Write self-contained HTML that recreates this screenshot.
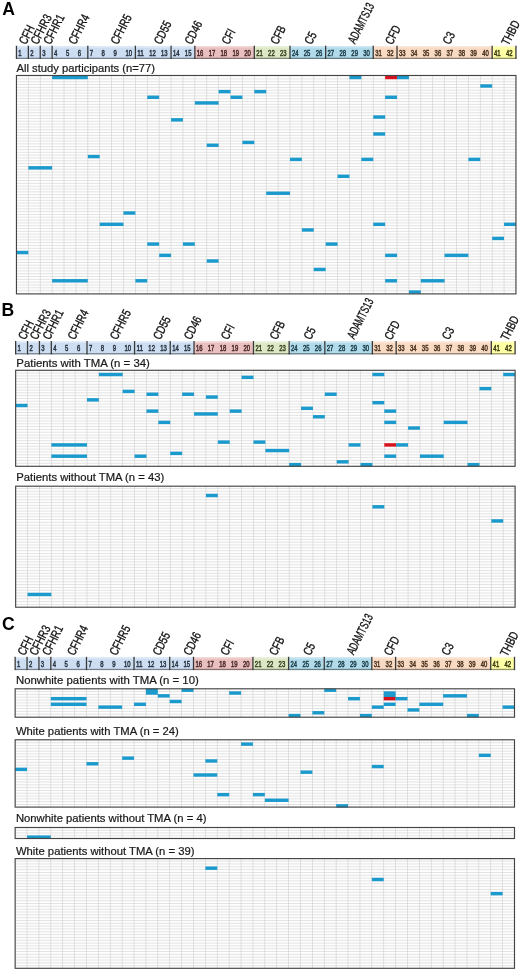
<!DOCTYPE html>
<html><head><meta charset="utf-8"><title>Figure</title>
<style>
html,body{margin:0;padding:0;background:#fff;}
body{width:520px;height:970px;overflow:hidden;}
svg{display:block;filter:blur(0.55px);font-family:"Liberation Sans", sans-serif;}
</style></head><body>
<svg width="520" height="970" viewBox="0 0 520 970">
<rect width="520" height="970" fill="#fff"/>
<text x="2.30" y="14.60" font-size="17.6" font-weight="bold" fill="#000">A</text>
<rect x="16.45" y="46.00" width="11.89" height="13.00" fill="#cddef3"/>
<rect x="28.34" y="46.00" width="11.89" height="13.00" fill="#cddef3"/>
<rect x="40.24" y="46.00" width="11.89" height="13.00" fill="#cddef3"/>
<rect x="52.13" y="46.00" width="35.68" height="13.00" fill="#cddef3"/>
<rect x="87.81" y="46.00" width="47.57" height="13.00" fill="#cddef3"/>
<rect x="135.38" y="46.00" width="35.68" height="13.00" fill="#cddef3"/>
<rect x="171.06" y="46.00" width="23.79" height="13.00" fill="#cddef3"/>
<rect x="194.84" y="46.00" width="59.46" height="13.00" fill="#e9c0bf"/>
<rect x="254.31" y="46.00" width="35.68" height="13.00" fill="#dde8c6"/>
<rect x="289.99" y="46.00" width="35.68" height="13.00" fill="#b1dbea"/>
<rect x="325.66" y="46.00" width="47.57" height="13.00" fill="#b1dbea"/>
<rect x="373.24" y="46.00" width="23.79" height="13.00" fill="#f9dac3"/>
<rect x="397.02" y="46.00" width="95.14" height="13.00" fill="#f9dac3"/>
<rect x="492.16" y="46.00" width="23.79" height="13.00" fill="#ffffa6"/>
<rect x="16.45" y="46.00" width="499.50" height="1.6" fill="#fff" fill-opacity="0.35"/>
<rect x="16.45" y="57.70" width="499.50" height="1.3" fill="#000" fill-opacity="0.42"/>
<text x="18.35" y="55.70" font-size="8.5" fill="#2a3440" stroke="#2a3440" stroke-width="0.5" textLength="3.30" lengthAdjust="spacingAndGlyphs">1</text>
<text x="30.24" y="55.70" font-size="8.5" fill="#2a3440" stroke="#2a3440" stroke-width="0.5" textLength="3.30" lengthAdjust="spacingAndGlyphs">2</text>
<text x="42.14" y="55.70" font-size="8.5" fill="#2a3440" stroke="#2a3440" stroke-width="0.5" textLength="3.30" lengthAdjust="spacingAndGlyphs">3</text>
<text x="54.03" y="55.70" font-size="8.5" fill="#2a3440" stroke="#2a3440" stroke-width="0.5" textLength="3.30" lengthAdjust="spacingAndGlyphs">4</text>
<text x="65.92" y="55.70" font-size="8.5" fill="#2a3440" stroke="#2a3440" stroke-width="0.5" textLength="3.30" lengthAdjust="spacingAndGlyphs">5</text>
<text x="77.81" y="55.70" font-size="8.5" fill="#2a3440" stroke="#2a3440" stroke-width="0.5" textLength="3.30" lengthAdjust="spacingAndGlyphs">6</text>
<text x="89.71" y="55.70" font-size="8.5" fill="#2a3440" stroke="#2a3440" stroke-width="0.5" textLength="3.30" lengthAdjust="spacingAndGlyphs">7</text>
<text x="101.60" y="55.70" font-size="8.5" fill="#2a3440" stroke="#2a3440" stroke-width="0.5" textLength="3.30" lengthAdjust="spacingAndGlyphs">8</text>
<text x="113.49" y="55.70" font-size="8.5" fill="#2a3440" stroke="#2a3440" stroke-width="0.5" textLength="3.30" lengthAdjust="spacingAndGlyphs">9</text>
<text x="125.39" y="55.70" font-size="8.5" fill="#2a3440" stroke="#2a3440" stroke-width="0.5" textLength="6.60" lengthAdjust="spacingAndGlyphs">10</text>
<text x="137.28" y="55.70" font-size="8.5" fill="#2a3440" stroke="#2a3440" stroke-width="0.5" textLength="6.60" lengthAdjust="spacingAndGlyphs">11</text>
<text x="149.17" y="55.70" font-size="8.5" fill="#2a3440" stroke="#2a3440" stroke-width="0.5" textLength="6.60" lengthAdjust="spacingAndGlyphs">12</text>
<text x="161.06" y="55.70" font-size="8.5" fill="#2a3440" stroke="#2a3440" stroke-width="0.5" textLength="6.60" lengthAdjust="spacingAndGlyphs">13</text>
<text x="172.96" y="55.70" font-size="8.5" fill="#2a3440" stroke="#2a3440" stroke-width="0.5" textLength="6.60" lengthAdjust="spacingAndGlyphs">14</text>
<text x="184.85" y="55.70" font-size="8.5" fill="#2a3440" stroke="#2a3440" stroke-width="0.5" textLength="6.60" lengthAdjust="spacingAndGlyphs">15</text>
<text x="196.74" y="55.70" font-size="8.5" fill="#4a2a2a" stroke="#4a2a2a" stroke-width="0.5" textLength="6.60" lengthAdjust="spacingAndGlyphs">16</text>
<text x="208.64" y="55.70" font-size="8.5" fill="#4a2a2a" stroke="#4a2a2a" stroke-width="0.5" textLength="6.60" lengthAdjust="spacingAndGlyphs">17</text>
<text x="220.53" y="55.70" font-size="8.5" fill="#4a2a2a" stroke="#4a2a2a" stroke-width="0.5" textLength="6.60" lengthAdjust="spacingAndGlyphs">18</text>
<text x="232.42" y="55.70" font-size="8.5" fill="#4a2a2a" stroke="#4a2a2a" stroke-width="0.5" textLength="6.60" lengthAdjust="spacingAndGlyphs">19</text>
<text x="244.31" y="55.70" font-size="8.5" fill="#4a2a2a" stroke="#4a2a2a" stroke-width="0.5" textLength="6.60" lengthAdjust="spacingAndGlyphs">20</text>
<text x="256.21" y="55.70" font-size="8.5" fill="#3a4220" stroke="#3a4220" stroke-width="0.5" textLength="6.60" lengthAdjust="spacingAndGlyphs">21</text>
<text x="268.10" y="55.70" font-size="8.5" fill="#3a4220" stroke="#3a4220" stroke-width="0.5" textLength="6.60" lengthAdjust="spacingAndGlyphs">22</text>
<text x="279.99" y="55.70" font-size="8.5" fill="#3a4220" stroke="#3a4220" stroke-width="0.5" textLength="6.60" lengthAdjust="spacingAndGlyphs">23</text>
<text x="291.89" y="55.70" font-size="8.5" fill="#1c3c48" stroke="#1c3c48" stroke-width="0.5" textLength="6.60" lengthAdjust="spacingAndGlyphs">24</text>
<text x="303.78" y="55.70" font-size="8.5" fill="#1c3c48" stroke="#1c3c48" stroke-width="0.5" textLength="6.60" lengthAdjust="spacingAndGlyphs">25</text>
<text x="315.67" y="55.70" font-size="8.5" fill="#1c3c48" stroke="#1c3c48" stroke-width="0.5" textLength="6.60" lengthAdjust="spacingAndGlyphs">26</text>
<text x="327.56" y="55.70" font-size="8.5" fill="#1c3c48" stroke="#1c3c48" stroke-width="0.5" textLength="6.60" lengthAdjust="spacingAndGlyphs">27</text>
<text x="339.46" y="55.70" font-size="8.5" fill="#1c3c48" stroke="#1c3c48" stroke-width="0.5" textLength="6.60" lengthAdjust="spacingAndGlyphs">28</text>
<text x="351.35" y="55.70" font-size="8.5" fill="#1c3c48" stroke="#1c3c48" stroke-width="0.5" textLength="6.60" lengthAdjust="spacingAndGlyphs">29</text>
<text x="363.24" y="55.70" font-size="8.5" fill="#1c3c48" stroke="#1c3c48" stroke-width="0.5" textLength="6.60" lengthAdjust="spacingAndGlyphs">30</text>
<text x="375.14" y="55.70" font-size="8.5" fill="#4a3420" stroke="#4a3420" stroke-width="0.5" textLength="6.60" lengthAdjust="spacingAndGlyphs">31</text>
<text x="387.03" y="55.70" font-size="8.5" fill="#4a3420" stroke="#4a3420" stroke-width="0.5" textLength="6.60" lengthAdjust="spacingAndGlyphs">32</text>
<text x="398.92" y="55.70" font-size="8.5" fill="#4a3420" stroke="#4a3420" stroke-width="0.5" textLength="6.60" lengthAdjust="spacingAndGlyphs">33</text>
<text x="410.81" y="55.70" font-size="8.5" fill="#4a3420" stroke="#4a3420" stroke-width="0.5" textLength="6.60" lengthAdjust="spacingAndGlyphs">34</text>
<text x="422.71" y="55.70" font-size="8.5" fill="#4a3420" stroke="#4a3420" stroke-width="0.5" textLength="6.60" lengthAdjust="spacingAndGlyphs">35</text>
<text x="434.60" y="55.70" font-size="8.5" fill="#4a3420" stroke="#4a3420" stroke-width="0.5" textLength="6.60" lengthAdjust="spacingAndGlyphs">36</text>
<text x="446.49" y="55.70" font-size="8.5" fill="#4a3420" stroke="#4a3420" stroke-width="0.5" textLength="6.60" lengthAdjust="spacingAndGlyphs">37</text>
<text x="458.39" y="55.70" font-size="8.5" fill="#4a3420" stroke="#4a3420" stroke-width="0.5" textLength="6.60" lengthAdjust="spacingAndGlyphs">38</text>
<text x="470.28" y="55.70" font-size="8.5" fill="#4a3420" stroke="#4a3420" stroke-width="0.5" textLength="6.60" lengthAdjust="spacingAndGlyphs">39</text>
<text x="482.17" y="55.70" font-size="8.5" fill="#4a3420" stroke="#4a3420" stroke-width="0.5" textLength="6.60" lengthAdjust="spacingAndGlyphs">40</text>
<text x="494.06" y="55.70" font-size="8.5" fill="#3a3a10" stroke="#3a3a10" stroke-width="0.5" textLength="6.60" lengthAdjust="spacingAndGlyphs">41</text>
<text x="505.96" y="55.70" font-size="8.5" fill="#3a3a10" stroke="#3a3a10" stroke-width="0.5" textLength="6.60" lengthAdjust="spacingAndGlyphs">42</text>
<rect x="27.69" y="45.70" width="1.3" height="13.30" fill="#3a3a3a"/>
<rect x="39.59" y="45.70" width="1.3" height="13.30" fill="#3a3a3a"/>
<rect x="51.48" y="45.70" width="1.3" height="13.30" fill="#3a3a3a"/>
<rect x="87.16" y="45.70" width="1.3" height="13.30" fill="#3a3a3a"/>
<rect x="134.73" y="45.70" width="1.3" height="13.30" fill="#3a3a3a"/>
<rect x="170.41" y="45.70" width="1.3" height="13.30" fill="#3a3a3a"/>
<rect x="194.19" y="45.70" width="1.3" height="13.30" fill="#3a3a3a"/>
<rect x="253.66" y="45.70" width="1.3" height="13.30" fill="#3a3a3a"/>
<rect x="289.34" y="45.70" width="1.3" height="13.30" fill="#3a3a3a"/>
<rect x="325.01" y="45.70" width="1.3" height="13.30" fill="#3a3a3a"/>
<rect x="372.59" y="45.70" width="1.3" height="13.30" fill="#3a3a3a"/>
<rect x="396.37" y="45.70" width="1.3" height="13.30" fill="#3a3a3a"/>
<rect x="491.51" y="45.70" width="1.3" height="13.30" fill="#3a3a3a"/>
<rect x="15.80" y="45.70" width="1.3" height="13.30" fill="#3a3a3a"/>
<rect x="515.30" y="45.70" width="1.3" height="13.30" fill="#3a3a3a"/>
<text x="0" y="0" font-size="12.5" fill="#111" stroke="#111" stroke-width="0.32" transform="translate(25.95,45.25) rotate(-63) scale(0.76,1)">CFH</text>
<text x="0" y="0" font-size="12.5" fill="#111" stroke="#111" stroke-width="0.32" transform="translate(37.75,45.25) rotate(-63) scale(0.76,1)">CFHR3</text>
<text x="0" y="0" font-size="12.5" fill="#111" stroke="#111" stroke-width="0.32" transform="translate(50.45,45.25) rotate(-63) scale(0.76,1)">CFHR1</text>
<text x="0" y="0" font-size="12.5" fill="#111" stroke="#111" stroke-width="0.32" transform="translate(75.45,45.25) rotate(-63) scale(0.76,1)">CFHR4</text>
<text x="0" y="0" font-size="12.5" fill="#111" stroke="#111" stroke-width="0.32" transform="translate(117.75,45.25) rotate(-63) scale(0.76,1)">CFHR5</text>
<text x="0" y="0" font-size="12.5" fill="#111" stroke="#111" stroke-width="0.32" transform="translate(160.95,45.25) rotate(-63) scale(0.76,1)">CD55</text>
<text x="0" y="0" font-size="12.5" fill="#111" stroke="#111" stroke-width="0.32" transform="translate(191.75,45.25) rotate(-63) scale(0.76,1)">CD46</text>
<text x="0" y="0" font-size="12.5" fill="#111" stroke="#111" stroke-width="0.32" transform="translate(228.85,45.25) rotate(-63) scale(0.76,1)">CFI</text>
<text x="0" y="0" font-size="12.5" fill="#111" stroke="#111" stroke-width="0.32" transform="translate(277.55,45.25) rotate(-63) scale(0.76,1)">CFB</text>
<text x="0" y="0" font-size="12.5" fill="#111" stroke="#111" stroke-width="0.32" transform="translate(311.55,45.25) rotate(-63) scale(0.76,1)">C5</text>
<text x="0" y="0" font-size="12.5" fill="#111" stroke="#111" stroke-width="0.32" transform="translate(354.95,44.45) rotate(-63) scale(0.66,1)">ADAMTS13</text>
<text x="0" y="0" font-size="12.5" fill="#111" stroke="#111" stroke-width="0.32" transform="translate(392.25,45.45) rotate(-63) scale(0.76,1)">CFD</text>
<text x="0" y="0" font-size="12.5" fill="#111" stroke="#111" stroke-width="0.32" transform="translate(449.85,45.25) rotate(-63) scale(0.76,1)">C3</text>
<text x="0" y="0" font-size="12.5" fill="#111" stroke="#111" stroke-width="0.32" transform="translate(508.55,46.25) rotate(-63) scale(0.76,1)">THBD</text>
<text x="16.55" y="71.80" font-size="11.2" fill="#1a1a1a" stroke="#1a1a1a" stroke-width="0.22">All study participants (n=77)</text>
<rect x="16.45" y="75.50" width="499.50" height="218.40" fill="#fdfdfd"/>
<rect x="16.45" y="78.47" width="499.50" height="0.9" fill="#e1e1e1"/>
<rect x="16.45" y="81.30" width="499.50" height="0.9" fill="#e1e1e1"/>
<rect x="16.45" y="84.12" width="499.50" height="0.9" fill="#e1e1e1"/>
<rect x="16.45" y="86.94" width="499.50" height="0.9" fill="#e1e1e1"/>
<rect x="16.45" y="89.76" width="499.50" height="0.9" fill="#e1e1e1"/>
<rect x="16.45" y="92.59" width="499.50" height="0.9" fill="#e1e1e1"/>
<rect x="16.45" y="95.41" width="499.50" height="0.9" fill="#e1e1e1"/>
<rect x="16.45" y="98.23" width="499.50" height="0.9" fill="#e1e1e1"/>
<rect x="16.45" y="101.06" width="499.50" height="0.9" fill="#e1e1e1"/>
<rect x="16.45" y="103.88" width="499.50" height="0.9" fill="#e1e1e1"/>
<rect x="16.45" y="106.70" width="499.50" height="0.9" fill="#e1e1e1"/>
<rect x="16.45" y="109.53" width="499.50" height="0.9" fill="#e1e1e1"/>
<rect x="16.45" y="112.35" width="499.50" height="0.9" fill="#e1e1e1"/>
<rect x="16.45" y="115.17" width="499.50" height="0.9" fill="#e1e1e1"/>
<rect x="16.45" y="117.99" width="499.50" height="0.9" fill="#e1e1e1"/>
<rect x="16.45" y="120.82" width="499.50" height="0.9" fill="#e1e1e1"/>
<rect x="16.45" y="123.64" width="499.50" height="0.9" fill="#e1e1e1"/>
<rect x="16.45" y="126.46" width="499.50" height="0.9" fill="#e1e1e1"/>
<rect x="16.45" y="129.29" width="499.50" height="0.9" fill="#e1e1e1"/>
<rect x="16.45" y="132.11" width="499.50" height="0.9" fill="#e1e1e1"/>
<rect x="16.45" y="134.93" width="499.50" height="0.9" fill="#e1e1e1"/>
<rect x="16.45" y="137.76" width="499.50" height="0.9" fill="#e1e1e1"/>
<rect x="16.45" y="140.58" width="499.50" height="0.9" fill="#e1e1e1"/>
<rect x="16.45" y="143.40" width="499.50" height="0.9" fill="#e1e1e1"/>
<rect x="16.45" y="146.23" width="499.50" height="0.9" fill="#e1e1e1"/>
<rect x="16.45" y="149.05" width="499.50" height="0.9" fill="#e1e1e1"/>
<rect x="16.45" y="151.87" width="499.50" height="0.9" fill="#e1e1e1"/>
<rect x="16.45" y="154.69" width="499.50" height="0.9" fill="#e1e1e1"/>
<rect x="16.45" y="157.52" width="499.50" height="0.9" fill="#e1e1e1"/>
<rect x="16.45" y="160.34" width="499.50" height="0.9" fill="#e1e1e1"/>
<rect x="16.45" y="163.16" width="499.50" height="0.9" fill="#e1e1e1"/>
<rect x="16.45" y="165.99" width="499.50" height="0.9" fill="#e1e1e1"/>
<rect x="16.45" y="168.81" width="499.50" height="0.9" fill="#e1e1e1"/>
<rect x="16.45" y="171.63" width="499.50" height="0.9" fill="#e1e1e1"/>
<rect x="16.45" y="174.45" width="499.50" height="0.9" fill="#e1e1e1"/>
<rect x="16.45" y="177.28" width="499.50" height="0.9" fill="#e1e1e1"/>
<rect x="16.45" y="180.10" width="499.50" height="0.9" fill="#e1e1e1"/>
<rect x="16.45" y="182.92" width="499.50" height="0.9" fill="#e1e1e1"/>
<rect x="16.45" y="185.75" width="499.50" height="0.9" fill="#e1e1e1"/>
<rect x="16.45" y="188.57" width="499.50" height="0.9" fill="#e1e1e1"/>
<rect x="16.45" y="191.39" width="499.50" height="0.9" fill="#e1e1e1"/>
<rect x="16.45" y="194.22" width="499.50" height="0.9" fill="#e1e1e1"/>
<rect x="16.45" y="197.04" width="499.50" height="0.9" fill="#e1e1e1"/>
<rect x="16.45" y="199.86" width="499.50" height="0.9" fill="#e1e1e1"/>
<rect x="16.45" y="202.69" width="499.50" height="0.9" fill="#e1e1e1"/>
<rect x="16.45" y="205.51" width="499.50" height="0.9" fill="#e1e1e1"/>
<rect x="16.45" y="208.33" width="499.50" height="0.9" fill="#e1e1e1"/>
<rect x="16.45" y="211.15" width="499.50" height="0.9" fill="#e1e1e1"/>
<rect x="16.45" y="213.98" width="499.50" height="0.9" fill="#e1e1e1"/>
<rect x="16.45" y="216.80" width="499.50" height="0.9" fill="#e1e1e1"/>
<rect x="16.45" y="219.62" width="499.50" height="0.9" fill="#e1e1e1"/>
<rect x="16.45" y="222.45" width="499.50" height="0.9" fill="#e1e1e1"/>
<rect x="16.45" y="225.27" width="499.50" height="0.9" fill="#e1e1e1"/>
<rect x="16.45" y="228.09" width="499.50" height="0.9" fill="#e1e1e1"/>
<rect x="16.45" y="230.91" width="499.50" height="0.9" fill="#e1e1e1"/>
<rect x="16.45" y="233.74" width="499.50" height="0.9" fill="#e1e1e1"/>
<rect x="16.45" y="236.56" width="499.50" height="0.9" fill="#e1e1e1"/>
<rect x="16.45" y="239.38" width="499.50" height="0.9" fill="#e1e1e1"/>
<rect x="16.45" y="242.21" width="499.50" height="0.9" fill="#e1e1e1"/>
<rect x="16.45" y="245.03" width="499.50" height="0.9" fill="#e1e1e1"/>
<rect x="16.45" y="247.85" width="499.50" height="0.9" fill="#e1e1e1"/>
<rect x="16.45" y="250.68" width="499.50" height="0.9" fill="#e1e1e1"/>
<rect x="16.45" y="253.50" width="499.50" height="0.9" fill="#e1e1e1"/>
<rect x="16.45" y="256.32" width="499.50" height="0.9" fill="#e1e1e1"/>
<rect x="16.45" y="259.15" width="499.50" height="0.9" fill="#e1e1e1"/>
<rect x="16.45" y="261.97" width="499.50" height="0.9" fill="#e1e1e1"/>
<rect x="16.45" y="264.79" width="499.50" height="0.9" fill="#e1e1e1"/>
<rect x="16.45" y="267.61" width="499.50" height="0.9" fill="#e1e1e1"/>
<rect x="16.45" y="270.44" width="499.50" height="0.9" fill="#e1e1e1"/>
<rect x="16.45" y="273.26" width="499.50" height="0.9" fill="#e1e1e1"/>
<rect x="16.45" y="276.08" width="499.50" height="0.9" fill="#e1e1e1"/>
<rect x="16.45" y="278.91" width="499.50" height="0.9" fill="#e1e1e1"/>
<rect x="16.45" y="281.73" width="499.50" height="0.9" fill="#e1e1e1"/>
<rect x="16.45" y="284.55" width="499.50" height="0.9" fill="#e1e1e1"/>
<rect x="16.45" y="287.38" width="499.50" height="0.9" fill="#e1e1e1"/>
<rect x="16.45" y="290.20" width="499.50" height="0.9" fill="#e1e1e1"/>
<rect x="27.99" y="75.50" width="0.7" height="218.40" fill="#d5d5d5"/>
<rect x="39.89" y="75.50" width="0.7" height="218.40" fill="#d5d5d5"/>
<rect x="51.78" y="75.50" width="0.7" height="218.40" fill="#d5d5d5"/>
<rect x="63.67" y="75.50" width="0.7" height="218.40" fill="#d5d5d5"/>
<rect x="75.56" y="75.50" width="0.7" height="218.40" fill="#d5d5d5"/>
<rect x="87.46" y="75.50" width="0.7" height="218.40" fill="#d5d5d5"/>
<rect x="99.35" y="75.50" width="0.7" height="218.40" fill="#d5d5d5"/>
<rect x="111.24" y="75.50" width="0.7" height="218.40" fill="#d5d5d5"/>
<rect x="123.14" y="75.50" width="0.7" height="218.40" fill="#d5d5d5"/>
<rect x="135.03" y="75.50" width="0.7" height="218.40" fill="#d5d5d5"/>
<rect x="146.92" y="75.50" width="0.7" height="218.40" fill="#d5d5d5"/>
<rect x="158.81" y="75.50" width="0.7" height="218.40" fill="#d5d5d5"/>
<rect x="170.71" y="75.50" width="0.7" height="218.40" fill="#d5d5d5"/>
<rect x="182.60" y="75.50" width="0.7" height="218.40" fill="#d5d5d5"/>
<rect x="194.49" y="75.50" width="0.7" height="218.40" fill="#d5d5d5"/>
<rect x="206.39" y="75.50" width="0.7" height="218.40" fill="#d5d5d5"/>
<rect x="218.28" y="75.50" width="0.7" height="218.40" fill="#d5d5d5"/>
<rect x="230.17" y="75.50" width="0.7" height="218.40" fill="#d5d5d5"/>
<rect x="242.06" y="75.50" width="0.7" height="218.40" fill="#d5d5d5"/>
<rect x="253.96" y="75.50" width="0.7" height="218.40" fill="#d5d5d5"/>
<rect x="265.85" y="75.50" width="0.7" height="218.40" fill="#d5d5d5"/>
<rect x="277.74" y="75.50" width="0.7" height="218.40" fill="#d5d5d5"/>
<rect x="289.64" y="75.50" width="0.7" height="218.40" fill="#d5d5d5"/>
<rect x="301.53" y="75.50" width="0.7" height="218.40" fill="#d5d5d5"/>
<rect x="313.42" y="75.50" width="0.7" height="218.40" fill="#d5d5d5"/>
<rect x="325.31" y="75.50" width="0.7" height="218.40" fill="#d5d5d5"/>
<rect x="337.21" y="75.50" width="0.7" height="218.40" fill="#d5d5d5"/>
<rect x="349.10" y="75.50" width="0.7" height="218.40" fill="#d5d5d5"/>
<rect x="360.99" y="75.50" width="0.7" height="218.40" fill="#d5d5d5"/>
<rect x="372.89" y="75.50" width="0.7" height="218.40" fill="#d5d5d5"/>
<rect x="384.78" y="75.50" width="0.7" height="218.40" fill="#d5d5d5"/>
<rect x="396.67" y="75.50" width="0.7" height="218.40" fill="#d5d5d5"/>
<rect x="408.56" y="75.50" width="0.7" height="218.40" fill="#d5d5d5"/>
<rect x="420.46" y="75.50" width="0.7" height="218.40" fill="#d5d5d5"/>
<rect x="432.35" y="75.50" width="0.7" height="218.40" fill="#d5d5d5"/>
<rect x="444.24" y="75.50" width="0.7" height="218.40" fill="#d5d5d5"/>
<rect x="456.14" y="75.50" width="0.7" height="218.40" fill="#d5d5d5"/>
<rect x="468.03" y="75.50" width="0.7" height="218.40" fill="#d5d5d5"/>
<rect x="479.92" y="75.50" width="0.7" height="218.40" fill="#d5d5d5"/>
<rect x="491.81" y="75.50" width="0.7" height="218.40" fill="#d5d5d5"/>
<rect x="503.71" y="75.50" width="0.7" height="218.40" fill="#d5d5d5"/>
<rect x="52.13" y="75.80" width="35.68" height="3.42" fill="#1b9acd"/>
<rect x="349.45" y="75.80" width="11.89" height="3.42" fill="#1b9acd"/>
<rect x="385.13" y="75.80" width="11.89" height="3.42" fill="#d8121c"/>
<rect x="397.02" y="75.80" width="11.89" height="3.42" fill="#1b9acd"/>
<rect x="480.27" y="84.27" width="11.89" height="3.42" fill="#1b9acd"/>
<rect x="218.63" y="89.91" width="11.89" height="3.42" fill="#1b9acd"/>
<rect x="254.31" y="89.91" width="11.89" height="3.42" fill="#1b9acd"/>
<rect x="147.27" y="95.56" width="11.89" height="3.42" fill="#1b9acd"/>
<rect x="230.52" y="95.56" width="11.89" height="3.42" fill="#1b9acd"/>
<rect x="385.13" y="95.56" width="11.89" height="3.42" fill="#1b9acd"/>
<rect x="194.84" y="101.21" width="23.79" height="3.42" fill="#1b9acd"/>
<rect x="373.24" y="115.32" width="11.89" height="3.42" fill="#1b9acd"/>
<rect x="171.06" y="118.14" width="11.89" height="3.42" fill="#1b9acd"/>
<rect x="373.24" y="132.26" width="11.89" height="3.42" fill="#1b9acd"/>
<rect x="242.41" y="140.73" width="11.89" height="3.42" fill="#1b9acd"/>
<rect x="206.74" y="143.55" width="11.89" height="3.42" fill="#1b9acd"/>
<rect x="87.81" y="154.84" width="11.89" height="3.42" fill="#1b9acd"/>
<rect x="289.99" y="157.67" width="11.89" height="3.42" fill="#1b9acd"/>
<rect x="361.34" y="157.67" width="11.89" height="3.42" fill="#1b9acd"/>
<rect x="468.38" y="157.67" width="11.89" height="3.42" fill="#1b9acd"/>
<rect x="28.34" y="166.14" width="23.79" height="3.42" fill="#1b9acd"/>
<rect x="337.56" y="174.60" width="11.89" height="3.42" fill="#1b9acd"/>
<rect x="266.20" y="191.54" width="23.79" height="3.42" fill="#1b9acd"/>
<rect x="123.49" y="211.30" width="11.89" height="3.42" fill="#1b9acd"/>
<rect x="99.70" y="222.60" width="23.79" height="3.42" fill="#1b9acd"/>
<rect x="373.24" y="222.60" width="11.89" height="3.42" fill="#1b9acd"/>
<rect x="504.06" y="222.60" width="11.89" height="3.42" fill="#1b9acd"/>
<rect x="301.88" y="228.24" width="11.89" height="3.42" fill="#1b9acd"/>
<rect x="492.16" y="236.71" width="11.89" height="3.42" fill="#1b9acd"/>
<rect x="147.27" y="242.36" width="11.89" height="3.42" fill="#1b9acd"/>
<rect x="182.95" y="242.36" width="11.89" height="3.42" fill="#1b9acd"/>
<rect x="325.66" y="242.36" width="11.89" height="3.42" fill="#1b9acd"/>
<rect x="16.45" y="250.83" width="11.89" height="3.42" fill="#1b9acd"/>
<rect x="159.16" y="253.65" width="11.89" height="3.42" fill="#1b9acd"/>
<rect x="385.13" y="253.65" width="11.89" height="3.42" fill="#1b9acd"/>
<rect x="444.59" y="253.65" width="23.79" height="3.42" fill="#1b9acd"/>
<rect x="206.74" y="259.30" width="11.89" height="3.42" fill="#1b9acd"/>
<rect x="313.77" y="267.76" width="11.89" height="3.42" fill="#1b9acd"/>
<rect x="52.13" y="279.06" width="35.68" height="3.42" fill="#1b9acd"/>
<rect x="135.38" y="279.06" width="11.89" height="3.42" fill="#1b9acd"/>
<rect x="385.13" y="279.06" width="11.89" height="3.42" fill="#1b9acd"/>
<rect x="420.81" y="279.06" width="23.79" height="3.42" fill="#1b9acd"/>
<rect x="408.91" y="290.35" width="11.89" height="3.42" fill="#1b9acd"/>
<rect x="16.45" y="75.50" width="499.50" height="218.40" fill="none" stroke="#444" stroke-width="1.15"/>
<text x="1.60" y="315.90" font-size="17.6" font-weight="bold" fill="#000">B</text>
<rect x="15.65" y="341.30" width="11.89" height="13.10" fill="#cddef3"/>
<rect x="27.54" y="341.30" width="11.89" height="13.10" fill="#cddef3"/>
<rect x="39.43" y="341.30" width="11.89" height="13.10" fill="#cddef3"/>
<rect x="51.33" y="341.30" width="35.68" height="13.10" fill="#cddef3"/>
<rect x="87.00" y="341.30" width="47.57" height="13.10" fill="#cddef3"/>
<rect x="134.57" y="341.30" width="35.68" height="13.10" fill="#cddef3"/>
<rect x="170.24" y="341.30" width="23.78" height="13.10" fill="#cddef3"/>
<rect x="194.03" y="341.30" width="59.46" height="13.10" fill="#e9c0bf"/>
<rect x="253.48" y="341.30" width="35.67" height="13.10" fill="#dde8c6"/>
<rect x="289.16" y="341.30" width="35.68" height="13.10" fill="#b1dbea"/>
<rect x="324.83" y="341.30" width="47.57" height="13.10" fill="#b1dbea"/>
<rect x="372.40" y="341.30" width="23.78" height="13.10" fill="#f9dac3"/>
<rect x="396.18" y="341.30" width="95.13" height="13.10" fill="#f9dac3"/>
<rect x="491.32" y="341.30" width="23.78" height="13.10" fill="#ffffa6"/>
<rect x="15.65" y="341.30" width="499.45" height="1.6" fill="#fff" fill-opacity="0.35"/>
<rect x="15.65" y="353.10" width="499.45" height="1.3" fill="#000" fill-opacity="0.42"/>
<text x="17.55" y="351.00" font-size="8.5" fill="#2a3440" stroke="#2a3440" stroke-width="0.5" textLength="3.30" lengthAdjust="spacingAndGlyphs">1</text>
<text x="29.44" y="351.00" font-size="8.5" fill="#2a3440" stroke="#2a3440" stroke-width="0.5" textLength="3.30" lengthAdjust="spacingAndGlyphs">2</text>
<text x="41.33" y="351.00" font-size="8.5" fill="#2a3440" stroke="#2a3440" stroke-width="0.5" textLength="3.30" lengthAdjust="spacingAndGlyphs">3</text>
<text x="53.23" y="351.00" font-size="8.5" fill="#2a3440" stroke="#2a3440" stroke-width="0.5" textLength="3.30" lengthAdjust="spacingAndGlyphs">4</text>
<text x="65.12" y="351.00" font-size="8.5" fill="#2a3440" stroke="#2a3440" stroke-width="0.5" textLength="3.30" lengthAdjust="spacingAndGlyphs">5</text>
<text x="77.01" y="351.00" font-size="8.5" fill="#2a3440" stroke="#2a3440" stroke-width="0.5" textLength="3.30" lengthAdjust="spacingAndGlyphs">6</text>
<text x="88.90" y="351.00" font-size="8.5" fill="#2a3440" stroke="#2a3440" stroke-width="0.5" textLength="3.30" lengthAdjust="spacingAndGlyphs">7</text>
<text x="100.79" y="351.00" font-size="8.5" fill="#2a3440" stroke="#2a3440" stroke-width="0.5" textLength="3.30" lengthAdjust="spacingAndGlyphs">8</text>
<text x="112.68" y="351.00" font-size="8.5" fill="#2a3440" stroke="#2a3440" stroke-width="0.5" textLength="3.30" lengthAdjust="spacingAndGlyphs">9</text>
<text x="124.58" y="351.00" font-size="8.5" fill="#2a3440" stroke="#2a3440" stroke-width="0.5" textLength="6.60" lengthAdjust="spacingAndGlyphs">10</text>
<text x="136.47" y="351.00" font-size="8.5" fill="#2a3440" stroke="#2a3440" stroke-width="0.5" textLength="6.60" lengthAdjust="spacingAndGlyphs">11</text>
<text x="148.36" y="351.00" font-size="8.5" fill="#2a3440" stroke="#2a3440" stroke-width="0.5" textLength="6.60" lengthAdjust="spacingAndGlyphs">12</text>
<text x="160.25" y="351.00" font-size="8.5" fill="#2a3440" stroke="#2a3440" stroke-width="0.5" textLength="6.60" lengthAdjust="spacingAndGlyphs">13</text>
<text x="172.14" y="351.00" font-size="8.5" fill="#2a3440" stroke="#2a3440" stroke-width="0.5" textLength="6.60" lengthAdjust="spacingAndGlyphs">14</text>
<text x="184.03" y="351.00" font-size="8.5" fill="#2a3440" stroke="#2a3440" stroke-width="0.5" textLength="6.60" lengthAdjust="spacingAndGlyphs">15</text>
<text x="195.93" y="351.00" font-size="8.5" fill="#4a2a2a" stroke="#4a2a2a" stroke-width="0.5" textLength="6.60" lengthAdjust="spacingAndGlyphs">16</text>
<text x="207.82" y="351.00" font-size="8.5" fill="#4a2a2a" stroke="#4a2a2a" stroke-width="0.5" textLength="6.60" lengthAdjust="spacingAndGlyphs">17</text>
<text x="219.71" y="351.00" font-size="8.5" fill="#4a2a2a" stroke="#4a2a2a" stroke-width="0.5" textLength="6.60" lengthAdjust="spacingAndGlyphs">18</text>
<text x="231.60" y="351.00" font-size="8.5" fill="#4a2a2a" stroke="#4a2a2a" stroke-width="0.5" textLength="6.60" lengthAdjust="spacingAndGlyphs">19</text>
<text x="243.49" y="351.00" font-size="8.5" fill="#4a2a2a" stroke="#4a2a2a" stroke-width="0.5" textLength="6.60" lengthAdjust="spacingAndGlyphs">20</text>
<text x="255.38" y="351.00" font-size="8.5" fill="#3a4220" stroke="#3a4220" stroke-width="0.5" textLength="6.60" lengthAdjust="spacingAndGlyphs">21</text>
<text x="267.27" y="351.00" font-size="8.5" fill="#3a4220" stroke="#3a4220" stroke-width="0.5" textLength="6.60" lengthAdjust="spacingAndGlyphs">22</text>
<text x="279.17" y="351.00" font-size="8.5" fill="#3a4220" stroke="#3a4220" stroke-width="0.5" textLength="6.60" lengthAdjust="spacingAndGlyphs">23</text>
<text x="291.06" y="351.00" font-size="8.5" fill="#1c3c48" stroke="#1c3c48" stroke-width="0.5" textLength="6.60" lengthAdjust="spacingAndGlyphs">24</text>
<text x="302.95" y="351.00" font-size="8.5" fill="#1c3c48" stroke="#1c3c48" stroke-width="0.5" textLength="6.60" lengthAdjust="spacingAndGlyphs">25</text>
<text x="314.84" y="351.00" font-size="8.5" fill="#1c3c48" stroke="#1c3c48" stroke-width="0.5" textLength="6.60" lengthAdjust="spacingAndGlyphs">26</text>
<text x="326.73" y="351.00" font-size="8.5" fill="#1c3c48" stroke="#1c3c48" stroke-width="0.5" textLength="6.60" lengthAdjust="spacingAndGlyphs">27</text>
<text x="338.62" y="351.00" font-size="8.5" fill="#1c3c48" stroke="#1c3c48" stroke-width="0.5" textLength="6.60" lengthAdjust="spacingAndGlyphs">28</text>
<text x="350.52" y="351.00" font-size="8.5" fill="#1c3c48" stroke="#1c3c48" stroke-width="0.5" textLength="6.60" lengthAdjust="spacingAndGlyphs">29</text>
<text x="362.41" y="351.00" font-size="8.5" fill="#1c3c48" stroke="#1c3c48" stroke-width="0.5" textLength="6.60" lengthAdjust="spacingAndGlyphs">30</text>
<text x="374.30" y="351.00" font-size="8.5" fill="#4a3420" stroke="#4a3420" stroke-width="0.5" textLength="6.60" lengthAdjust="spacingAndGlyphs">31</text>
<text x="386.19" y="351.00" font-size="8.5" fill="#4a3420" stroke="#4a3420" stroke-width="0.5" textLength="6.60" lengthAdjust="spacingAndGlyphs">32</text>
<text x="398.08" y="351.00" font-size="8.5" fill="#4a3420" stroke="#4a3420" stroke-width="0.5" textLength="6.60" lengthAdjust="spacingAndGlyphs">33</text>
<text x="409.97" y="351.00" font-size="8.5" fill="#4a3420" stroke="#4a3420" stroke-width="0.5" textLength="6.60" lengthAdjust="spacingAndGlyphs">34</text>
<text x="421.87" y="351.00" font-size="8.5" fill="#4a3420" stroke="#4a3420" stroke-width="0.5" textLength="6.60" lengthAdjust="spacingAndGlyphs">35</text>
<text x="433.76" y="351.00" font-size="8.5" fill="#4a3420" stroke="#4a3420" stroke-width="0.5" textLength="6.60" lengthAdjust="spacingAndGlyphs">36</text>
<text x="445.65" y="351.00" font-size="8.5" fill="#4a3420" stroke="#4a3420" stroke-width="0.5" textLength="6.60" lengthAdjust="spacingAndGlyphs">37</text>
<text x="457.54" y="351.00" font-size="8.5" fill="#4a3420" stroke="#4a3420" stroke-width="0.5" textLength="6.60" lengthAdjust="spacingAndGlyphs">38</text>
<text x="469.43" y="351.00" font-size="8.5" fill="#4a3420" stroke="#4a3420" stroke-width="0.5" textLength="6.60" lengthAdjust="spacingAndGlyphs">39</text>
<text x="481.32" y="351.00" font-size="8.5" fill="#4a3420" stroke="#4a3420" stroke-width="0.5" textLength="6.60" lengthAdjust="spacingAndGlyphs">40</text>
<text x="493.22" y="351.00" font-size="8.5" fill="#3a3a10" stroke="#3a3a10" stroke-width="0.5" textLength="6.60" lengthAdjust="spacingAndGlyphs">41</text>
<text x="505.11" y="351.00" font-size="8.5" fill="#3a3a10" stroke="#3a3a10" stroke-width="0.5" textLength="6.60" lengthAdjust="spacingAndGlyphs">42</text>
<rect x="26.89" y="341.00" width="1.3" height="13.40" fill="#3a3a3a"/>
<rect x="38.78" y="341.00" width="1.3" height="13.40" fill="#3a3a3a"/>
<rect x="50.68" y="341.00" width="1.3" height="13.40" fill="#3a3a3a"/>
<rect x="86.35" y="341.00" width="1.3" height="13.40" fill="#3a3a3a"/>
<rect x="133.92" y="341.00" width="1.3" height="13.40" fill="#3a3a3a"/>
<rect x="169.59" y="341.00" width="1.3" height="13.40" fill="#3a3a3a"/>
<rect x="193.38" y="341.00" width="1.3" height="13.40" fill="#3a3a3a"/>
<rect x="252.83" y="341.00" width="1.3" height="13.40" fill="#3a3a3a"/>
<rect x="288.51" y="341.00" width="1.3" height="13.40" fill="#3a3a3a"/>
<rect x="324.18" y="341.00" width="1.3" height="13.40" fill="#3a3a3a"/>
<rect x="371.75" y="341.00" width="1.3" height="13.40" fill="#3a3a3a"/>
<rect x="395.53" y="341.00" width="1.3" height="13.40" fill="#3a3a3a"/>
<rect x="490.67" y="341.00" width="1.3" height="13.40" fill="#3a3a3a"/>
<rect x="15.00" y="341.00" width="1.3" height="13.40" fill="#3a3a3a"/>
<rect x="514.45" y="341.00" width="1.3" height="13.40" fill="#3a3a3a"/>
<text x="0" y="0" font-size="12.5" fill="#111" stroke="#111" stroke-width="0.32" transform="translate(25.15,340.55) rotate(-63) scale(0.76,1)">CFH</text>
<text x="0" y="0" font-size="12.5" fill="#111" stroke="#111" stroke-width="0.32" transform="translate(36.95,340.55) rotate(-63) scale(0.76,1)">CFHR3</text>
<text x="0" y="0" font-size="12.5" fill="#111" stroke="#111" stroke-width="0.32" transform="translate(49.65,340.55) rotate(-63) scale(0.76,1)">CFHR1</text>
<text x="0" y="0" font-size="12.5" fill="#111" stroke="#111" stroke-width="0.32" transform="translate(74.65,340.55) rotate(-63) scale(0.76,1)">CFHR4</text>
<text x="0" y="0" font-size="12.5" fill="#111" stroke="#111" stroke-width="0.32" transform="translate(116.95,340.55) rotate(-63) scale(0.76,1)">CFHR5</text>
<text x="0" y="0" font-size="12.5" fill="#111" stroke="#111" stroke-width="0.32" transform="translate(160.15,340.55) rotate(-63) scale(0.76,1)">CD55</text>
<text x="0" y="0" font-size="12.5" fill="#111" stroke="#111" stroke-width="0.32" transform="translate(190.95,340.55) rotate(-63) scale(0.76,1)">CD46</text>
<text x="0" y="0" font-size="12.5" fill="#111" stroke="#111" stroke-width="0.32" transform="translate(228.05,340.55) rotate(-63) scale(0.76,1)">CFI</text>
<text x="0" y="0" font-size="12.5" fill="#111" stroke="#111" stroke-width="0.32" transform="translate(276.75,340.55) rotate(-63) scale(0.76,1)">CFB</text>
<text x="0" y="0" font-size="12.5" fill="#111" stroke="#111" stroke-width="0.32" transform="translate(310.75,340.55) rotate(-63) scale(0.76,1)">C5</text>
<text x="0" y="0" font-size="12.5" fill="#111" stroke="#111" stroke-width="0.32" transform="translate(354.15,339.75) rotate(-63) scale(0.66,1)">ADAMTS13</text>
<text x="0" y="0" font-size="12.5" fill="#111" stroke="#111" stroke-width="0.32" transform="translate(391.45,340.75) rotate(-63) scale(0.76,1)">CFD</text>
<text x="0" y="0" font-size="12.5" fill="#111" stroke="#111" stroke-width="0.32" transform="translate(449.05,340.55) rotate(-63) scale(0.76,1)">C3</text>
<text x="0" y="0" font-size="12.5" fill="#111" stroke="#111" stroke-width="0.32" transform="translate(507.75,341.55) rotate(-63) scale(0.76,1)">THBD</text>
<text x="16.35" y="366.80" font-size="11.38" fill="#1a1a1a" stroke="#1a1a1a" stroke-width="0.22">Patients with TMA (n = 34)</text>
<rect x="15.65" y="370.30" width="499.45" height="96.00" fill="#fdfdfd"/>
<rect x="15.65" y="372.67" width="499.45" height="0.9" fill="#e1e1e1"/>
<rect x="15.65" y="375.48" width="499.45" height="0.9" fill="#e1e1e1"/>
<rect x="15.65" y="378.30" width="499.45" height="0.9" fill="#e1e1e1"/>
<rect x="15.65" y="381.11" width="499.45" height="0.9" fill="#e1e1e1"/>
<rect x="15.65" y="383.93" width="499.45" height="0.9" fill="#e1e1e1"/>
<rect x="15.65" y="386.75" width="499.45" height="0.9" fill="#e1e1e1"/>
<rect x="15.65" y="389.56" width="499.45" height="0.9" fill="#e1e1e1"/>
<rect x="15.65" y="392.38" width="499.45" height="0.9" fill="#e1e1e1"/>
<rect x="15.65" y="395.19" width="499.45" height="0.9" fill="#e1e1e1"/>
<rect x="15.65" y="398.01" width="499.45" height="0.9" fill="#e1e1e1"/>
<rect x="15.65" y="400.83" width="499.45" height="0.9" fill="#e1e1e1"/>
<rect x="15.65" y="403.64" width="499.45" height="0.9" fill="#e1e1e1"/>
<rect x="15.65" y="406.46" width="499.45" height="0.9" fill="#e1e1e1"/>
<rect x="15.65" y="409.27" width="499.45" height="0.9" fill="#e1e1e1"/>
<rect x="15.65" y="412.09" width="499.45" height="0.9" fill="#e1e1e1"/>
<rect x="15.65" y="414.91" width="499.45" height="0.9" fill="#e1e1e1"/>
<rect x="15.65" y="417.72" width="499.45" height="0.9" fill="#e1e1e1"/>
<rect x="15.65" y="420.54" width="499.45" height="0.9" fill="#e1e1e1"/>
<rect x="15.65" y="423.35" width="499.45" height="0.9" fill="#e1e1e1"/>
<rect x="15.65" y="426.17" width="499.45" height="0.9" fill="#e1e1e1"/>
<rect x="15.65" y="428.99" width="499.45" height="0.9" fill="#e1e1e1"/>
<rect x="15.65" y="431.80" width="499.45" height="0.9" fill="#e1e1e1"/>
<rect x="15.65" y="434.62" width="499.45" height="0.9" fill="#e1e1e1"/>
<rect x="15.65" y="437.43" width="499.45" height="0.9" fill="#e1e1e1"/>
<rect x="15.65" y="440.25" width="499.45" height="0.9" fill="#e1e1e1"/>
<rect x="15.65" y="443.07" width="499.45" height="0.9" fill="#e1e1e1"/>
<rect x="15.65" y="445.88" width="499.45" height="0.9" fill="#e1e1e1"/>
<rect x="15.65" y="448.70" width="499.45" height="0.9" fill="#e1e1e1"/>
<rect x="15.65" y="451.51" width="499.45" height="0.9" fill="#e1e1e1"/>
<rect x="15.65" y="454.33" width="499.45" height="0.9" fill="#e1e1e1"/>
<rect x="15.65" y="457.15" width="499.45" height="0.9" fill="#e1e1e1"/>
<rect x="15.65" y="459.96" width="499.45" height="0.9" fill="#e1e1e1"/>
<rect x="15.65" y="462.78" width="499.45" height="0.9" fill="#e1e1e1"/>
<rect x="27.19" y="370.30" width="0.7" height="96.00" fill="#d5d5d5"/>
<rect x="39.08" y="370.30" width="0.7" height="96.00" fill="#d5d5d5"/>
<rect x="50.98" y="370.30" width="0.7" height="96.00" fill="#d5d5d5"/>
<rect x="62.87" y="370.30" width="0.7" height="96.00" fill="#d5d5d5"/>
<rect x="74.76" y="370.30" width="0.7" height="96.00" fill="#d5d5d5"/>
<rect x="86.65" y="370.30" width="0.7" height="96.00" fill="#d5d5d5"/>
<rect x="98.54" y="370.30" width="0.7" height="96.00" fill="#d5d5d5"/>
<rect x="110.43" y="370.30" width="0.7" height="96.00" fill="#d5d5d5"/>
<rect x="122.33" y="370.30" width="0.7" height="96.00" fill="#d5d5d5"/>
<rect x="134.22" y="370.30" width="0.7" height="96.00" fill="#d5d5d5"/>
<rect x="146.11" y="370.30" width="0.7" height="96.00" fill="#d5d5d5"/>
<rect x="158.00" y="370.30" width="0.7" height="96.00" fill="#d5d5d5"/>
<rect x="169.89" y="370.30" width="0.7" height="96.00" fill="#d5d5d5"/>
<rect x="181.78" y="370.30" width="0.7" height="96.00" fill="#d5d5d5"/>
<rect x="193.68" y="370.30" width="0.7" height="96.00" fill="#d5d5d5"/>
<rect x="205.57" y="370.30" width="0.7" height="96.00" fill="#d5d5d5"/>
<rect x="217.46" y="370.30" width="0.7" height="96.00" fill="#d5d5d5"/>
<rect x="229.35" y="370.30" width="0.7" height="96.00" fill="#d5d5d5"/>
<rect x="241.24" y="370.30" width="0.7" height="96.00" fill="#d5d5d5"/>
<rect x="253.13" y="370.30" width="0.7" height="96.00" fill="#d5d5d5"/>
<rect x="265.02" y="370.30" width="0.7" height="96.00" fill="#d5d5d5"/>
<rect x="276.92" y="370.30" width="0.7" height="96.00" fill="#d5d5d5"/>
<rect x="288.81" y="370.30" width="0.7" height="96.00" fill="#d5d5d5"/>
<rect x="300.70" y="370.30" width="0.7" height="96.00" fill="#d5d5d5"/>
<rect x="312.59" y="370.30" width="0.7" height="96.00" fill="#d5d5d5"/>
<rect x="324.48" y="370.30" width="0.7" height="96.00" fill="#d5d5d5"/>
<rect x="336.38" y="370.30" width="0.7" height="96.00" fill="#d5d5d5"/>
<rect x="348.27" y="370.30" width="0.7" height="96.00" fill="#d5d5d5"/>
<rect x="360.16" y="370.30" width="0.7" height="96.00" fill="#d5d5d5"/>
<rect x="372.05" y="370.30" width="0.7" height="96.00" fill="#d5d5d5"/>
<rect x="383.94" y="370.30" width="0.7" height="96.00" fill="#d5d5d5"/>
<rect x="395.83" y="370.30" width="0.7" height="96.00" fill="#d5d5d5"/>
<rect x="407.72" y="370.30" width="0.7" height="96.00" fill="#d5d5d5"/>
<rect x="419.62" y="370.30" width="0.7" height="96.00" fill="#d5d5d5"/>
<rect x="431.51" y="370.30" width="0.7" height="96.00" fill="#d5d5d5"/>
<rect x="443.40" y="370.30" width="0.7" height="96.00" fill="#d5d5d5"/>
<rect x="455.29" y="370.30" width="0.7" height="96.00" fill="#d5d5d5"/>
<rect x="467.18" y="370.30" width="0.7" height="96.00" fill="#d5d5d5"/>
<rect x="479.07" y="370.30" width="0.7" height="96.00" fill="#d5d5d5"/>
<rect x="490.97" y="370.30" width="0.7" height="96.00" fill="#d5d5d5"/>
<rect x="502.86" y="370.30" width="0.7" height="96.00" fill="#d5d5d5"/>
<rect x="98.89" y="372.82" width="23.78" height="3.42" fill="#1b9acd"/>
<rect x="372.40" y="372.82" width="11.89" height="3.42" fill="#1b9acd"/>
<rect x="503.21" y="372.82" width="11.89" height="3.42" fill="#1b9acd"/>
<rect x="241.59" y="375.63" width="11.89" height="3.42" fill="#1b9acd"/>
<rect x="479.43" y="386.90" width="11.89" height="3.42" fill="#1b9acd"/>
<rect x="122.68" y="389.71" width="11.89" height="3.42" fill="#1b9acd"/>
<rect x="146.46" y="392.53" width="11.89" height="3.42" fill="#1b9acd"/>
<rect x="182.13" y="392.53" width="11.89" height="3.42" fill="#1b9acd"/>
<rect x="324.83" y="392.53" width="11.89" height="3.42" fill="#1b9acd"/>
<rect x="205.92" y="395.34" width="11.89" height="3.42" fill="#1b9acd"/>
<rect x="87.00" y="398.16" width="11.89" height="3.42" fill="#1b9acd"/>
<rect x="372.40" y="400.98" width="11.89" height="3.42" fill="#1b9acd"/>
<rect x="15.65" y="403.79" width="11.89" height="3.42" fill="#1b9acd"/>
<rect x="301.05" y="406.61" width="11.89" height="3.42" fill="#1b9acd"/>
<rect x="146.46" y="409.42" width="11.89" height="3.42" fill="#1b9acd"/>
<rect x="229.70" y="409.42" width="11.89" height="3.42" fill="#1b9acd"/>
<rect x="384.29" y="409.42" width="11.89" height="3.42" fill="#1b9acd"/>
<rect x="194.03" y="412.24" width="23.78" height="3.42" fill="#1b9acd"/>
<rect x="312.94" y="415.06" width="11.89" height="3.42" fill="#1b9acd"/>
<rect x="158.35" y="420.69" width="11.89" height="3.42" fill="#1b9acd"/>
<rect x="384.29" y="420.69" width="11.89" height="3.42" fill="#1b9acd"/>
<rect x="443.75" y="420.69" width="23.78" height="3.42" fill="#1b9acd"/>
<rect x="408.07" y="426.32" width="11.89" height="3.42" fill="#1b9acd"/>
<rect x="217.81" y="440.40" width="11.89" height="3.42" fill="#1b9acd"/>
<rect x="253.48" y="440.40" width="11.89" height="3.42" fill="#1b9acd"/>
<rect x="51.33" y="443.22" width="35.68" height="3.42" fill="#1b9acd"/>
<rect x="348.62" y="443.22" width="11.89" height="3.42" fill="#1b9acd"/>
<rect x="384.29" y="443.22" width="11.89" height="3.42" fill="#d8121c"/>
<rect x="396.18" y="443.22" width="11.89" height="3.42" fill="#1b9acd"/>
<rect x="265.38" y="448.85" width="23.78" height="3.42" fill="#1b9acd"/>
<rect x="170.24" y="451.66" width="11.89" height="3.42" fill="#1b9acd"/>
<rect x="51.33" y="454.48" width="35.68" height="3.42" fill="#1b9acd"/>
<rect x="134.57" y="454.48" width="11.89" height="3.42" fill="#1b9acd"/>
<rect x="384.29" y="454.48" width="11.89" height="3.42" fill="#1b9acd"/>
<rect x="419.97" y="454.48" width="23.78" height="3.42" fill="#1b9acd"/>
<rect x="336.73" y="460.11" width="11.89" height="3.42" fill="#1b9acd"/>
<rect x="289.16" y="462.93" width="11.89" height="3.42" fill="#1b9acd"/>
<rect x="360.51" y="462.93" width="11.89" height="3.42" fill="#1b9acd"/>
<rect x="467.53" y="462.93" width="11.89" height="3.42" fill="#1b9acd"/>
<rect x="15.65" y="370.30" width="499.45" height="96.00" fill="none" stroke="#444" stroke-width="1.15"/>
<text x="16.35" y="481.10" font-size="11.28" fill="#1a1a1a" stroke="#1a1a1a" stroke-width="0.22">Patients without TMA (n = 43)</text>
<rect x="15.65" y="486.20" width="499.45" height="121.00" fill="#fdfdfd"/>
<rect x="15.65" y="487.98" width="499.45" height="0.9" fill="#e1e1e1"/>
<rect x="15.65" y="490.81" width="499.45" height="0.9" fill="#e1e1e1"/>
<rect x="15.65" y="493.63" width="499.45" height="0.9" fill="#e1e1e1"/>
<rect x="15.65" y="496.46" width="499.45" height="0.9" fill="#e1e1e1"/>
<rect x="15.65" y="499.29" width="499.45" height="0.9" fill="#e1e1e1"/>
<rect x="15.65" y="502.12" width="499.45" height="0.9" fill="#e1e1e1"/>
<rect x="15.65" y="504.95" width="499.45" height="0.9" fill="#e1e1e1"/>
<rect x="15.65" y="507.77" width="499.45" height="0.9" fill="#e1e1e1"/>
<rect x="15.65" y="510.60" width="499.45" height="0.9" fill="#e1e1e1"/>
<rect x="15.65" y="513.43" width="499.45" height="0.9" fill="#e1e1e1"/>
<rect x="15.65" y="516.26" width="499.45" height="0.9" fill="#e1e1e1"/>
<rect x="15.65" y="519.09" width="499.45" height="0.9" fill="#e1e1e1"/>
<rect x="15.65" y="521.91" width="499.45" height="0.9" fill="#e1e1e1"/>
<rect x="15.65" y="524.74" width="499.45" height="0.9" fill="#e1e1e1"/>
<rect x="15.65" y="527.57" width="499.45" height="0.9" fill="#e1e1e1"/>
<rect x="15.65" y="530.40" width="499.45" height="0.9" fill="#e1e1e1"/>
<rect x="15.65" y="533.23" width="499.45" height="0.9" fill="#e1e1e1"/>
<rect x="15.65" y="536.05" width="499.45" height="0.9" fill="#e1e1e1"/>
<rect x="15.65" y="538.88" width="499.45" height="0.9" fill="#e1e1e1"/>
<rect x="15.65" y="541.71" width="499.45" height="0.9" fill="#e1e1e1"/>
<rect x="15.65" y="544.54" width="499.45" height="0.9" fill="#e1e1e1"/>
<rect x="15.65" y="547.37" width="499.45" height="0.9" fill="#e1e1e1"/>
<rect x="15.65" y="550.19" width="499.45" height="0.9" fill="#e1e1e1"/>
<rect x="15.65" y="553.02" width="499.45" height="0.9" fill="#e1e1e1"/>
<rect x="15.65" y="555.85" width="499.45" height="0.9" fill="#e1e1e1"/>
<rect x="15.65" y="558.68" width="499.45" height="0.9" fill="#e1e1e1"/>
<rect x="15.65" y="561.51" width="499.45" height="0.9" fill="#e1e1e1"/>
<rect x="15.65" y="564.33" width="499.45" height="0.9" fill="#e1e1e1"/>
<rect x="15.65" y="567.16" width="499.45" height="0.9" fill="#e1e1e1"/>
<rect x="15.65" y="569.99" width="499.45" height="0.9" fill="#e1e1e1"/>
<rect x="15.65" y="572.82" width="499.45" height="0.9" fill="#e1e1e1"/>
<rect x="15.65" y="575.65" width="499.45" height="0.9" fill="#e1e1e1"/>
<rect x="15.65" y="578.47" width="499.45" height="0.9" fill="#e1e1e1"/>
<rect x="15.65" y="581.30" width="499.45" height="0.9" fill="#e1e1e1"/>
<rect x="15.65" y="584.13" width="499.45" height="0.9" fill="#e1e1e1"/>
<rect x="15.65" y="586.96" width="499.45" height="0.9" fill="#e1e1e1"/>
<rect x="15.65" y="589.79" width="499.45" height="0.9" fill="#e1e1e1"/>
<rect x="15.65" y="592.61" width="499.45" height="0.9" fill="#e1e1e1"/>
<rect x="15.65" y="595.44" width="499.45" height="0.9" fill="#e1e1e1"/>
<rect x="15.65" y="598.27" width="499.45" height="0.9" fill="#e1e1e1"/>
<rect x="15.65" y="601.10" width="499.45" height="0.9" fill="#e1e1e1"/>
<rect x="15.65" y="603.93" width="499.45" height="0.9" fill="#e1e1e1"/>
<rect x="27.19" y="486.20" width="0.7" height="121.00" fill="#d5d5d5"/>
<rect x="39.08" y="486.20" width="0.7" height="121.00" fill="#d5d5d5"/>
<rect x="50.98" y="486.20" width="0.7" height="121.00" fill="#d5d5d5"/>
<rect x="62.87" y="486.20" width="0.7" height="121.00" fill="#d5d5d5"/>
<rect x="74.76" y="486.20" width="0.7" height="121.00" fill="#d5d5d5"/>
<rect x="86.65" y="486.20" width="0.7" height="121.00" fill="#d5d5d5"/>
<rect x="98.54" y="486.20" width="0.7" height="121.00" fill="#d5d5d5"/>
<rect x="110.43" y="486.20" width="0.7" height="121.00" fill="#d5d5d5"/>
<rect x="122.33" y="486.20" width="0.7" height="121.00" fill="#d5d5d5"/>
<rect x="134.22" y="486.20" width="0.7" height="121.00" fill="#d5d5d5"/>
<rect x="146.11" y="486.20" width="0.7" height="121.00" fill="#d5d5d5"/>
<rect x="158.00" y="486.20" width="0.7" height="121.00" fill="#d5d5d5"/>
<rect x="169.89" y="486.20" width="0.7" height="121.00" fill="#d5d5d5"/>
<rect x="181.78" y="486.20" width="0.7" height="121.00" fill="#d5d5d5"/>
<rect x="193.68" y="486.20" width="0.7" height="121.00" fill="#d5d5d5"/>
<rect x="205.57" y="486.20" width="0.7" height="121.00" fill="#d5d5d5"/>
<rect x="217.46" y="486.20" width="0.7" height="121.00" fill="#d5d5d5"/>
<rect x="229.35" y="486.20" width="0.7" height="121.00" fill="#d5d5d5"/>
<rect x="241.24" y="486.20" width="0.7" height="121.00" fill="#d5d5d5"/>
<rect x="253.13" y="486.20" width="0.7" height="121.00" fill="#d5d5d5"/>
<rect x="265.02" y="486.20" width="0.7" height="121.00" fill="#d5d5d5"/>
<rect x="276.92" y="486.20" width="0.7" height="121.00" fill="#d5d5d5"/>
<rect x="288.81" y="486.20" width="0.7" height="121.00" fill="#d5d5d5"/>
<rect x="300.70" y="486.20" width="0.7" height="121.00" fill="#d5d5d5"/>
<rect x="312.59" y="486.20" width="0.7" height="121.00" fill="#d5d5d5"/>
<rect x="324.48" y="486.20" width="0.7" height="121.00" fill="#d5d5d5"/>
<rect x="336.38" y="486.20" width="0.7" height="121.00" fill="#d5d5d5"/>
<rect x="348.27" y="486.20" width="0.7" height="121.00" fill="#d5d5d5"/>
<rect x="360.16" y="486.20" width="0.7" height="121.00" fill="#d5d5d5"/>
<rect x="372.05" y="486.20" width="0.7" height="121.00" fill="#d5d5d5"/>
<rect x="383.94" y="486.20" width="0.7" height="121.00" fill="#d5d5d5"/>
<rect x="395.83" y="486.20" width="0.7" height="121.00" fill="#d5d5d5"/>
<rect x="407.72" y="486.20" width="0.7" height="121.00" fill="#d5d5d5"/>
<rect x="419.62" y="486.20" width="0.7" height="121.00" fill="#d5d5d5"/>
<rect x="431.51" y="486.20" width="0.7" height="121.00" fill="#d5d5d5"/>
<rect x="443.40" y="486.20" width="0.7" height="121.00" fill="#d5d5d5"/>
<rect x="455.29" y="486.20" width="0.7" height="121.00" fill="#d5d5d5"/>
<rect x="467.18" y="486.20" width="0.7" height="121.00" fill="#d5d5d5"/>
<rect x="479.07" y="486.20" width="0.7" height="121.00" fill="#d5d5d5"/>
<rect x="490.97" y="486.20" width="0.7" height="121.00" fill="#d5d5d5"/>
<rect x="502.86" y="486.20" width="0.7" height="121.00" fill="#d5d5d5"/>
<rect x="205.92" y="493.78" width="11.89" height="3.43" fill="#1b9acd"/>
<rect x="372.40" y="505.10" width="11.89" height="3.43" fill="#1b9acd"/>
<rect x="491.32" y="519.24" width="11.89" height="3.43" fill="#1b9acd"/>
<rect x="27.54" y="592.76" width="23.78" height="3.43" fill="#1b9acd"/>
<rect x="15.65" y="486.20" width="499.45" height="121.00" fill="none" stroke="#444" stroke-width="1.15"/>
<text x="1.90" y="629.60" font-size="17.6" font-weight="bold" fill="#000">C</text>
<rect x="15.15" y="657.10" width="11.89" height="13.00" fill="#cddef3"/>
<rect x="27.04" y="657.10" width="11.89" height="13.00" fill="#cddef3"/>
<rect x="38.93" y="657.10" width="11.89" height="13.00" fill="#cddef3"/>
<rect x="50.82" y="657.10" width="35.67" height="13.00" fill="#cddef3"/>
<rect x="86.49" y="657.10" width="47.56" height="13.00" fill="#cddef3"/>
<rect x="134.04" y="657.10" width="35.67" height="13.00" fill="#cddef3"/>
<rect x="169.71" y="657.10" width="23.78" height="13.00" fill="#cddef3"/>
<rect x="193.49" y="657.10" width="59.45" height="13.00" fill="#e9c0bf"/>
<rect x="252.94" y="657.10" width="35.67" height="13.00" fill="#dde8c6"/>
<rect x="288.60" y="657.10" width="35.67" height="13.00" fill="#b1dbea"/>
<rect x="324.27" y="657.10" width="47.56" height="13.00" fill="#b1dbea"/>
<rect x="371.83" y="657.10" width="23.78" height="13.00" fill="#f9dac3"/>
<rect x="395.61" y="657.10" width="95.11" height="13.00" fill="#f9dac3"/>
<rect x="490.72" y="657.10" width="23.78" height="13.00" fill="#ffffa6"/>
<rect x="15.15" y="657.10" width="499.35" height="1.6" fill="#fff" fill-opacity="0.35"/>
<rect x="15.15" y="668.80" width="499.35" height="1.3" fill="#000" fill-opacity="0.42"/>
<text x="17.05" y="666.80" font-size="8.5" fill="#2a3440" stroke="#2a3440" stroke-width="0.5" textLength="3.30" lengthAdjust="spacingAndGlyphs">1</text>
<text x="28.94" y="666.80" font-size="8.5" fill="#2a3440" stroke="#2a3440" stroke-width="0.5" textLength="3.30" lengthAdjust="spacingAndGlyphs">2</text>
<text x="40.83" y="666.80" font-size="8.5" fill="#2a3440" stroke="#2a3440" stroke-width="0.5" textLength="3.30" lengthAdjust="spacingAndGlyphs">3</text>
<text x="52.72" y="666.80" font-size="8.5" fill="#2a3440" stroke="#2a3440" stroke-width="0.5" textLength="3.30" lengthAdjust="spacingAndGlyphs">4</text>
<text x="64.61" y="666.80" font-size="8.5" fill="#2a3440" stroke="#2a3440" stroke-width="0.5" textLength="3.30" lengthAdjust="spacingAndGlyphs">5</text>
<text x="76.50" y="666.80" font-size="8.5" fill="#2a3440" stroke="#2a3440" stroke-width="0.5" textLength="3.30" lengthAdjust="spacingAndGlyphs">6</text>
<text x="88.39" y="666.80" font-size="8.5" fill="#2a3440" stroke="#2a3440" stroke-width="0.5" textLength="3.30" lengthAdjust="spacingAndGlyphs">7</text>
<text x="100.28" y="666.80" font-size="8.5" fill="#2a3440" stroke="#2a3440" stroke-width="0.5" textLength="3.30" lengthAdjust="spacingAndGlyphs">8</text>
<text x="112.16" y="666.80" font-size="8.5" fill="#2a3440" stroke="#2a3440" stroke-width="0.5" textLength="3.30" lengthAdjust="spacingAndGlyphs">9</text>
<text x="124.05" y="666.80" font-size="8.5" fill="#2a3440" stroke="#2a3440" stroke-width="0.5" textLength="6.60" lengthAdjust="spacingAndGlyphs">10</text>
<text x="135.94" y="666.80" font-size="8.5" fill="#2a3440" stroke="#2a3440" stroke-width="0.5" textLength="6.60" lengthAdjust="spacingAndGlyphs">11</text>
<text x="147.83" y="666.80" font-size="8.5" fill="#2a3440" stroke="#2a3440" stroke-width="0.5" textLength="6.60" lengthAdjust="spacingAndGlyphs">12</text>
<text x="159.72" y="666.80" font-size="8.5" fill="#2a3440" stroke="#2a3440" stroke-width="0.5" textLength="6.60" lengthAdjust="spacingAndGlyphs">13</text>
<text x="171.61" y="666.80" font-size="8.5" fill="#2a3440" stroke="#2a3440" stroke-width="0.5" textLength="6.60" lengthAdjust="spacingAndGlyphs">14</text>
<text x="183.50" y="666.80" font-size="8.5" fill="#2a3440" stroke="#2a3440" stroke-width="0.5" textLength="6.60" lengthAdjust="spacingAndGlyphs">15</text>
<text x="195.39" y="666.80" font-size="8.5" fill="#4a2a2a" stroke="#4a2a2a" stroke-width="0.5" textLength="6.60" lengthAdjust="spacingAndGlyphs">16</text>
<text x="207.28" y="666.80" font-size="8.5" fill="#4a2a2a" stroke="#4a2a2a" stroke-width="0.5" textLength="6.60" lengthAdjust="spacingAndGlyphs">17</text>
<text x="219.17" y="666.80" font-size="8.5" fill="#4a2a2a" stroke="#4a2a2a" stroke-width="0.5" textLength="6.60" lengthAdjust="spacingAndGlyphs">18</text>
<text x="231.06" y="666.80" font-size="8.5" fill="#4a2a2a" stroke="#4a2a2a" stroke-width="0.5" textLength="6.60" lengthAdjust="spacingAndGlyphs">19</text>
<text x="242.95" y="666.80" font-size="8.5" fill="#4a2a2a" stroke="#4a2a2a" stroke-width="0.5" textLength="6.60" lengthAdjust="spacingAndGlyphs">20</text>
<text x="254.84" y="666.80" font-size="8.5" fill="#3a4220" stroke="#3a4220" stroke-width="0.5" textLength="6.60" lengthAdjust="spacingAndGlyphs">21</text>
<text x="266.72" y="666.80" font-size="8.5" fill="#3a4220" stroke="#3a4220" stroke-width="0.5" textLength="6.60" lengthAdjust="spacingAndGlyphs">22</text>
<text x="278.61" y="666.80" font-size="8.5" fill="#3a4220" stroke="#3a4220" stroke-width="0.5" textLength="6.60" lengthAdjust="spacingAndGlyphs">23</text>
<text x="290.50" y="666.80" font-size="8.5" fill="#1c3c48" stroke="#1c3c48" stroke-width="0.5" textLength="6.60" lengthAdjust="spacingAndGlyphs">24</text>
<text x="302.39" y="666.80" font-size="8.5" fill="#1c3c48" stroke="#1c3c48" stroke-width="0.5" textLength="6.60" lengthAdjust="spacingAndGlyphs">25</text>
<text x="314.28" y="666.80" font-size="8.5" fill="#1c3c48" stroke="#1c3c48" stroke-width="0.5" textLength="6.60" lengthAdjust="spacingAndGlyphs">26</text>
<text x="326.17" y="666.80" font-size="8.5" fill="#1c3c48" stroke="#1c3c48" stroke-width="0.5" textLength="6.60" lengthAdjust="spacingAndGlyphs">27</text>
<text x="338.06" y="666.80" font-size="8.5" fill="#1c3c48" stroke="#1c3c48" stroke-width="0.5" textLength="6.60" lengthAdjust="spacingAndGlyphs">28</text>
<text x="349.95" y="666.80" font-size="8.5" fill="#1c3c48" stroke="#1c3c48" stroke-width="0.5" textLength="6.60" lengthAdjust="spacingAndGlyphs">29</text>
<text x="361.84" y="666.80" font-size="8.5" fill="#1c3c48" stroke="#1c3c48" stroke-width="0.5" textLength="6.60" lengthAdjust="spacingAndGlyphs">30</text>
<text x="373.73" y="666.80" font-size="8.5" fill="#4a3420" stroke="#4a3420" stroke-width="0.5" textLength="6.60" lengthAdjust="spacingAndGlyphs">31</text>
<text x="385.62" y="666.80" font-size="8.5" fill="#4a3420" stroke="#4a3420" stroke-width="0.5" textLength="6.60" lengthAdjust="spacingAndGlyphs">32</text>
<text x="397.51" y="666.80" font-size="8.5" fill="#4a3420" stroke="#4a3420" stroke-width="0.5" textLength="6.60" lengthAdjust="spacingAndGlyphs">33</text>
<text x="409.40" y="666.80" font-size="8.5" fill="#4a3420" stroke="#4a3420" stroke-width="0.5" textLength="6.60" lengthAdjust="spacingAndGlyphs">34</text>
<text x="421.29" y="666.80" font-size="8.5" fill="#4a3420" stroke="#4a3420" stroke-width="0.5" textLength="6.60" lengthAdjust="spacingAndGlyphs">35</text>
<text x="433.17" y="666.80" font-size="8.5" fill="#4a3420" stroke="#4a3420" stroke-width="0.5" textLength="6.60" lengthAdjust="spacingAndGlyphs">36</text>
<text x="445.06" y="666.80" font-size="8.5" fill="#4a3420" stroke="#4a3420" stroke-width="0.5" textLength="6.60" lengthAdjust="spacingAndGlyphs">37</text>
<text x="456.95" y="666.80" font-size="8.5" fill="#4a3420" stroke="#4a3420" stroke-width="0.5" textLength="6.60" lengthAdjust="spacingAndGlyphs">38</text>
<text x="468.84" y="666.80" font-size="8.5" fill="#4a3420" stroke="#4a3420" stroke-width="0.5" textLength="6.60" lengthAdjust="spacingAndGlyphs">39</text>
<text x="480.73" y="666.80" font-size="8.5" fill="#4a3420" stroke="#4a3420" stroke-width="0.5" textLength="6.60" lengthAdjust="spacingAndGlyphs">40</text>
<text x="492.62" y="666.80" font-size="8.5" fill="#3a3a10" stroke="#3a3a10" stroke-width="0.5" textLength="6.60" lengthAdjust="spacingAndGlyphs">41</text>
<text x="504.51" y="666.80" font-size="8.5" fill="#3a3a10" stroke="#3a3a10" stroke-width="0.5" textLength="6.60" lengthAdjust="spacingAndGlyphs">42</text>
<rect x="26.39" y="656.80" width="1.3" height="13.30" fill="#3a3a3a"/>
<rect x="38.28" y="656.80" width="1.3" height="13.30" fill="#3a3a3a"/>
<rect x="50.17" y="656.80" width="1.3" height="13.30" fill="#3a3a3a"/>
<rect x="85.84" y="656.80" width="1.3" height="13.30" fill="#3a3a3a"/>
<rect x="133.39" y="656.80" width="1.3" height="13.30" fill="#3a3a3a"/>
<rect x="169.06" y="656.80" width="1.3" height="13.30" fill="#3a3a3a"/>
<rect x="192.84" y="656.80" width="1.3" height="13.30" fill="#3a3a3a"/>
<rect x="252.29" y="656.80" width="1.3" height="13.30" fill="#3a3a3a"/>
<rect x="287.95" y="656.80" width="1.3" height="13.30" fill="#3a3a3a"/>
<rect x="323.62" y="656.80" width="1.3" height="13.30" fill="#3a3a3a"/>
<rect x="371.18" y="656.80" width="1.3" height="13.30" fill="#3a3a3a"/>
<rect x="394.96" y="656.80" width="1.3" height="13.30" fill="#3a3a3a"/>
<rect x="490.07" y="656.80" width="1.3" height="13.30" fill="#3a3a3a"/>
<rect x="14.50" y="656.80" width="1.3" height="13.30" fill="#3a3a3a"/>
<rect x="513.85" y="656.80" width="1.3" height="13.30" fill="#3a3a3a"/>
<text x="0" y="0" font-size="12.5" fill="#111" stroke="#111" stroke-width="0.32" transform="translate(24.65,656.35) rotate(-63) scale(0.76,1)">CFH</text>
<text x="0" y="0" font-size="12.5" fill="#111" stroke="#111" stroke-width="0.32" transform="translate(36.45,656.35) rotate(-63) scale(0.76,1)">CFHR3</text>
<text x="0" y="0" font-size="12.5" fill="#111" stroke="#111" stroke-width="0.32" transform="translate(49.15,656.35) rotate(-63) scale(0.76,1)">CFHR1</text>
<text x="0" y="0" font-size="12.5" fill="#111" stroke="#111" stroke-width="0.32" transform="translate(74.15,656.35) rotate(-63) scale(0.76,1)">CFHR4</text>
<text x="0" y="0" font-size="12.5" fill="#111" stroke="#111" stroke-width="0.32" transform="translate(116.45,656.35) rotate(-63) scale(0.76,1)">CFHR5</text>
<text x="0" y="0" font-size="12.5" fill="#111" stroke="#111" stroke-width="0.32" transform="translate(159.65,656.35) rotate(-63) scale(0.76,1)">CD55</text>
<text x="0" y="0" font-size="12.5" fill="#111" stroke="#111" stroke-width="0.32" transform="translate(190.45,656.35) rotate(-63) scale(0.76,1)">CD46</text>
<text x="0" y="0" font-size="12.5" fill="#111" stroke="#111" stroke-width="0.32" transform="translate(227.55,656.35) rotate(-63) scale(0.76,1)">CFI</text>
<text x="0" y="0" font-size="12.5" fill="#111" stroke="#111" stroke-width="0.32" transform="translate(276.25,656.35) rotate(-63) scale(0.76,1)">CFB</text>
<text x="0" y="0" font-size="12.5" fill="#111" stroke="#111" stroke-width="0.32" transform="translate(310.25,656.35) rotate(-63) scale(0.76,1)">C5</text>
<text x="0" y="0" font-size="12.5" fill="#111" stroke="#111" stroke-width="0.32" transform="translate(353.65,655.55) rotate(-63) scale(0.66,1)">ADAMTS13</text>
<text x="0" y="0" font-size="12.5" fill="#111" stroke="#111" stroke-width="0.32" transform="translate(390.95,656.55) rotate(-63) scale(0.76,1)">CFD</text>
<text x="0" y="0" font-size="12.5" fill="#111" stroke="#111" stroke-width="0.32" transform="translate(448.55,656.35) rotate(-63) scale(0.76,1)">C3</text>
<text x="0" y="0" font-size="12.5" fill="#111" stroke="#111" stroke-width="0.32" transform="translate(507.25,657.35) rotate(-63) scale(0.76,1)">THBD</text>
<text x="15.95" y="683.50" font-size="11.38" fill="#1a1a1a" stroke="#1a1a1a" stroke-width="0.22">Nonwhite patients with TMA (n = 10)</text>
<rect x="15.15" y="688.80" width="499.35" height="28.40" fill="#fdfdfd"/>
<rect x="15.15" y="691.17" width="499.35" height="0.9" fill="#e1e1e1"/>
<rect x="15.15" y="693.99" width="499.35" height="0.9" fill="#e1e1e1"/>
<rect x="15.15" y="696.81" width="499.35" height="0.9" fill="#e1e1e1"/>
<rect x="15.15" y="699.63" width="499.35" height="0.9" fill="#e1e1e1"/>
<rect x="15.15" y="702.45" width="499.35" height="0.9" fill="#e1e1e1"/>
<rect x="15.15" y="705.27" width="499.35" height="0.9" fill="#e1e1e1"/>
<rect x="15.15" y="708.09" width="499.35" height="0.9" fill="#e1e1e1"/>
<rect x="15.15" y="710.91" width="499.35" height="0.9" fill="#e1e1e1"/>
<rect x="15.15" y="713.73" width="499.35" height="0.9" fill="#e1e1e1"/>
<rect x="26.69" y="688.80" width="0.7" height="28.40" fill="#d5d5d5"/>
<rect x="38.58" y="688.80" width="0.7" height="28.40" fill="#d5d5d5"/>
<rect x="50.47" y="688.80" width="0.7" height="28.40" fill="#d5d5d5"/>
<rect x="62.36" y="688.80" width="0.7" height="28.40" fill="#d5d5d5"/>
<rect x="74.25" y="688.80" width="0.7" height="28.40" fill="#d5d5d5"/>
<rect x="86.14" y="688.80" width="0.7" height="28.40" fill="#d5d5d5"/>
<rect x="98.03" y="688.80" width="0.7" height="28.40" fill="#d5d5d5"/>
<rect x="109.91" y="688.80" width="0.7" height="28.40" fill="#d5d5d5"/>
<rect x="121.80" y="688.80" width="0.7" height="28.40" fill="#d5d5d5"/>
<rect x="133.69" y="688.80" width="0.7" height="28.40" fill="#d5d5d5"/>
<rect x="145.58" y="688.80" width="0.7" height="28.40" fill="#d5d5d5"/>
<rect x="157.47" y="688.80" width="0.7" height="28.40" fill="#d5d5d5"/>
<rect x="169.36" y="688.80" width="0.7" height="28.40" fill="#d5d5d5"/>
<rect x="181.25" y="688.80" width="0.7" height="28.40" fill="#d5d5d5"/>
<rect x="193.14" y="688.80" width="0.7" height="28.40" fill="#d5d5d5"/>
<rect x="205.03" y="688.80" width="0.7" height="28.40" fill="#d5d5d5"/>
<rect x="216.92" y="688.80" width="0.7" height="28.40" fill="#d5d5d5"/>
<rect x="228.81" y="688.80" width="0.7" height="28.40" fill="#d5d5d5"/>
<rect x="240.70" y="688.80" width="0.7" height="28.40" fill="#d5d5d5"/>
<rect x="252.59" y="688.80" width="0.7" height="28.40" fill="#d5d5d5"/>
<rect x="264.47" y="688.80" width="0.7" height="28.40" fill="#d5d5d5"/>
<rect x="276.36" y="688.80" width="0.7" height="28.40" fill="#d5d5d5"/>
<rect x="288.25" y="688.80" width="0.7" height="28.40" fill="#d5d5d5"/>
<rect x="300.14" y="688.80" width="0.7" height="28.40" fill="#d5d5d5"/>
<rect x="312.03" y="688.80" width="0.7" height="28.40" fill="#d5d5d5"/>
<rect x="323.92" y="688.80" width="0.7" height="28.40" fill="#d5d5d5"/>
<rect x="335.81" y="688.80" width="0.7" height="28.40" fill="#d5d5d5"/>
<rect x="347.70" y="688.80" width="0.7" height="28.40" fill="#d5d5d5"/>
<rect x="359.59" y="688.80" width="0.7" height="28.40" fill="#d5d5d5"/>
<rect x="371.48" y="688.80" width="0.7" height="28.40" fill="#d5d5d5"/>
<rect x="383.37" y="688.80" width="0.7" height="28.40" fill="#d5d5d5"/>
<rect x="395.26" y="688.80" width="0.7" height="28.40" fill="#d5d5d5"/>
<rect x="407.15" y="688.80" width="0.7" height="28.40" fill="#d5d5d5"/>
<rect x="419.04" y="688.80" width="0.7" height="28.40" fill="#d5d5d5"/>
<rect x="430.92" y="688.80" width="0.7" height="28.40" fill="#d5d5d5"/>
<rect x="442.81" y="688.80" width="0.7" height="28.40" fill="#d5d5d5"/>
<rect x="454.70" y="688.80" width="0.7" height="28.40" fill="#d5d5d5"/>
<rect x="466.59" y="688.80" width="0.7" height="28.40" fill="#d5d5d5"/>
<rect x="478.48" y="688.80" width="0.7" height="28.40" fill="#d5d5d5"/>
<rect x="490.37" y="688.80" width="0.7" height="28.40" fill="#d5d5d5"/>
<rect x="502.26" y="688.80" width="0.7" height="28.40" fill="#d5d5d5"/>
<rect x="145.93" y="688.50" width="11.89" height="3.42" fill="#1b9acd"/>
<rect x="181.60" y="688.50" width="11.89" height="3.42" fill="#1b9acd"/>
<rect x="324.27" y="688.50" width="11.89" height="3.42" fill="#1b9acd"/>
<rect x="145.93" y="691.32" width="11.89" height="3.42" fill="#1b9acd"/>
<rect x="229.16" y="691.32" width="11.89" height="3.42" fill="#1b9acd"/>
<rect x="383.72" y="691.32" width="11.89" height="3.42" fill="#1b9acd"/>
<rect x="157.82" y="694.14" width="11.89" height="3.42" fill="#1b9acd"/>
<rect x="383.72" y="694.14" width="11.89" height="3.42" fill="#1b9acd"/>
<rect x="443.16" y="694.14" width="23.78" height="3.42" fill="#1b9acd"/>
<rect x="50.82" y="696.96" width="35.67" height="3.42" fill="#1b9acd"/>
<rect x="348.05" y="696.96" width="11.89" height="3.42" fill="#1b9acd"/>
<rect x="383.72" y="696.96" width="11.89" height="3.42" fill="#d8121c"/>
<rect x="395.61" y="696.96" width="11.89" height="3.42" fill="#1b9acd"/>
<rect x="169.71" y="699.78" width="11.89" height="3.42" fill="#1b9acd"/>
<rect x="50.82" y="702.60" width="35.67" height="3.42" fill="#1b9acd"/>
<rect x="134.04" y="702.60" width="11.89" height="3.42" fill="#1b9acd"/>
<rect x="383.72" y="702.60" width="11.89" height="3.42" fill="#1b9acd"/>
<rect x="419.39" y="702.60" width="23.78" height="3.42" fill="#1b9acd"/>
<rect x="98.38" y="705.42" width="23.78" height="3.42" fill="#1b9acd"/>
<rect x="371.83" y="705.42" width="11.89" height="3.42" fill="#1b9acd"/>
<rect x="502.61" y="705.42" width="11.89" height="3.42" fill="#1b9acd"/>
<rect x="407.50" y="708.24" width="11.89" height="3.42" fill="#1b9acd"/>
<rect x="312.38" y="711.06" width="11.89" height="3.42" fill="#1b9acd"/>
<rect x="288.60" y="713.88" width="11.89" height="3.42" fill="#1b9acd"/>
<rect x="359.94" y="713.88" width="11.89" height="3.42" fill="#1b9acd"/>
<rect x="466.94" y="713.88" width="11.89" height="3.42" fill="#1b9acd"/>
<rect x="15.15" y="688.80" width="499.35" height="28.40" fill="none" stroke="#444" stroke-width="1.15"/>
<text x="15.95" y="734.90" font-size="11.28" fill="#1a1a1a" stroke="#1a1a1a" stroke-width="0.22">White patients with TMA (n = 24)</text>
<rect x="15.15" y="739.80" width="499.35" height="67.30" fill="#fdfdfd"/>
<rect x="15.15" y="742.26" width="499.35" height="0.9" fill="#e1e1e1"/>
<rect x="15.15" y="745.06" width="499.35" height="0.9" fill="#e1e1e1"/>
<rect x="15.15" y="747.87" width="499.35" height="0.9" fill="#e1e1e1"/>
<rect x="15.15" y="750.68" width="499.35" height="0.9" fill="#e1e1e1"/>
<rect x="15.15" y="753.48" width="499.35" height="0.9" fill="#e1e1e1"/>
<rect x="15.15" y="756.29" width="499.35" height="0.9" fill="#e1e1e1"/>
<rect x="15.15" y="759.10" width="499.35" height="0.9" fill="#e1e1e1"/>
<rect x="15.15" y="761.91" width="499.35" height="0.9" fill="#e1e1e1"/>
<rect x="15.15" y="764.71" width="499.35" height="0.9" fill="#e1e1e1"/>
<rect x="15.15" y="767.52" width="499.35" height="0.9" fill="#e1e1e1"/>
<rect x="15.15" y="770.33" width="499.35" height="0.9" fill="#e1e1e1"/>
<rect x="15.15" y="773.13" width="499.35" height="0.9" fill="#e1e1e1"/>
<rect x="15.15" y="775.94" width="499.35" height="0.9" fill="#e1e1e1"/>
<rect x="15.15" y="778.75" width="499.35" height="0.9" fill="#e1e1e1"/>
<rect x="15.15" y="781.55" width="499.35" height="0.9" fill="#e1e1e1"/>
<rect x="15.15" y="784.36" width="499.35" height="0.9" fill="#e1e1e1"/>
<rect x="15.15" y="787.17" width="499.35" height="0.9" fill="#e1e1e1"/>
<rect x="15.15" y="789.98" width="499.35" height="0.9" fill="#e1e1e1"/>
<rect x="15.15" y="792.78" width="499.35" height="0.9" fill="#e1e1e1"/>
<rect x="15.15" y="795.59" width="499.35" height="0.9" fill="#e1e1e1"/>
<rect x="15.15" y="798.40" width="499.35" height="0.9" fill="#e1e1e1"/>
<rect x="15.15" y="801.20" width="499.35" height="0.9" fill="#e1e1e1"/>
<rect x="15.15" y="804.01" width="499.35" height="0.9" fill="#e1e1e1"/>
<rect x="26.69" y="739.80" width="0.7" height="67.30" fill="#d5d5d5"/>
<rect x="38.58" y="739.80" width="0.7" height="67.30" fill="#d5d5d5"/>
<rect x="50.47" y="739.80" width="0.7" height="67.30" fill="#d5d5d5"/>
<rect x="62.36" y="739.80" width="0.7" height="67.30" fill="#d5d5d5"/>
<rect x="74.25" y="739.80" width="0.7" height="67.30" fill="#d5d5d5"/>
<rect x="86.14" y="739.80" width="0.7" height="67.30" fill="#d5d5d5"/>
<rect x="98.03" y="739.80" width="0.7" height="67.30" fill="#d5d5d5"/>
<rect x="109.91" y="739.80" width="0.7" height="67.30" fill="#d5d5d5"/>
<rect x="121.80" y="739.80" width="0.7" height="67.30" fill="#d5d5d5"/>
<rect x="133.69" y="739.80" width="0.7" height="67.30" fill="#d5d5d5"/>
<rect x="145.58" y="739.80" width="0.7" height="67.30" fill="#d5d5d5"/>
<rect x="157.47" y="739.80" width="0.7" height="67.30" fill="#d5d5d5"/>
<rect x="169.36" y="739.80" width="0.7" height="67.30" fill="#d5d5d5"/>
<rect x="181.25" y="739.80" width="0.7" height="67.30" fill="#d5d5d5"/>
<rect x="193.14" y="739.80" width="0.7" height="67.30" fill="#d5d5d5"/>
<rect x="205.03" y="739.80" width="0.7" height="67.30" fill="#d5d5d5"/>
<rect x="216.92" y="739.80" width="0.7" height="67.30" fill="#d5d5d5"/>
<rect x="228.81" y="739.80" width="0.7" height="67.30" fill="#d5d5d5"/>
<rect x="240.70" y="739.80" width="0.7" height="67.30" fill="#d5d5d5"/>
<rect x="252.59" y="739.80" width="0.7" height="67.30" fill="#d5d5d5"/>
<rect x="264.47" y="739.80" width="0.7" height="67.30" fill="#d5d5d5"/>
<rect x="276.36" y="739.80" width="0.7" height="67.30" fill="#d5d5d5"/>
<rect x="288.25" y="739.80" width="0.7" height="67.30" fill="#d5d5d5"/>
<rect x="300.14" y="739.80" width="0.7" height="67.30" fill="#d5d5d5"/>
<rect x="312.03" y="739.80" width="0.7" height="67.30" fill="#d5d5d5"/>
<rect x="323.92" y="739.80" width="0.7" height="67.30" fill="#d5d5d5"/>
<rect x="335.81" y="739.80" width="0.7" height="67.30" fill="#d5d5d5"/>
<rect x="347.70" y="739.80" width="0.7" height="67.30" fill="#d5d5d5"/>
<rect x="359.59" y="739.80" width="0.7" height="67.30" fill="#d5d5d5"/>
<rect x="371.48" y="739.80" width="0.7" height="67.30" fill="#d5d5d5"/>
<rect x="383.37" y="739.80" width="0.7" height="67.30" fill="#d5d5d5"/>
<rect x="395.26" y="739.80" width="0.7" height="67.30" fill="#d5d5d5"/>
<rect x="407.15" y="739.80" width="0.7" height="67.30" fill="#d5d5d5"/>
<rect x="419.04" y="739.80" width="0.7" height="67.30" fill="#d5d5d5"/>
<rect x="430.92" y="739.80" width="0.7" height="67.30" fill="#d5d5d5"/>
<rect x="442.81" y="739.80" width="0.7" height="67.30" fill="#d5d5d5"/>
<rect x="454.70" y="739.80" width="0.7" height="67.30" fill="#d5d5d5"/>
<rect x="466.59" y="739.80" width="0.7" height="67.30" fill="#d5d5d5"/>
<rect x="478.48" y="739.80" width="0.7" height="67.30" fill="#d5d5d5"/>
<rect x="490.37" y="739.80" width="0.7" height="67.30" fill="#d5d5d5"/>
<rect x="502.26" y="739.80" width="0.7" height="67.30" fill="#d5d5d5"/>
<rect x="241.05" y="742.41" width="11.89" height="3.41" fill="#1b9acd"/>
<rect x="478.83" y="753.63" width="11.89" height="3.41" fill="#1b9acd"/>
<rect x="122.15" y="756.44" width="11.89" height="3.41" fill="#1b9acd"/>
<rect x="205.38" y="759.25" width="11.89" height="3.41" fill="#1b9acd"/>
<rect x="86.49" y="762.06" width="11.89" height="3.41" fill="#1b9acd"/>
<rect x="371.83" y="764.86" width="11.89" height="3.41" fill="#1b9acd"/>
<rect x="15.15" y="767.67" width="11.89" height="3.41" fill="#1b9acd"/>
<rect x="300.49" y="770.48" width="11.89" height="3.41" fill="#1b9acd"/>
<rect x="193.49" y="773.28" width="23.78" height="3.41" fill="#1b9acd"/>
<rect x="217.27" y="792.93" width="11.89" height="3.41" fill="#1b9acd"/>
<rect x="252.94" y="792.93" width="11.89" height="3.41" fill="#1b9acd"/>
<rect x="264.82" y="798.55" width="23.78" height="3.41" fill="#1b9acd"/>
<rect x="336.16" y="804.16" width="11.89" height="3.41" fill="#1b9acd"/>
<rect x="15.15" y="739.80" width="499.35" height="67.30" fill="none" stroke="#444" stroke-width="1.15"/>
<text x="15.95" y="821.80" font-size="11.28" fill="#1a1a1a" stroke="#1a1a1a" stroke-width="0.22">Nonwhite patients without TMA (n = 4)</text>
<rect x="15.15" y="827.50" width="499.35" height="11.00" fill="#fdfdfd"/>
<rect x="15.15" y="829.80" width="499.35" height="0.9" fill="#e1e1e1"/>
<rect x="15.15" y="832.55" width="499.35" height="0.9" fill="#e1e1e1"/>
<rect x="15.15" y="835.30" width="499.35" height="0.9" fill="#e1e1e1"/>
<rect x="26.69" y="827.50" width="0.7" height="11.00" fill="#d5d5d5"/>
<rect x="38.58" y="827.50" width="0.7" height="11.00" fill="#d5d5d5"/>
<rect x="50.47" y="827.50" width="0.7" height="11.00" fill="#d5d5d5"/>
<rect x="62.36" y="827.50" width="0.7" height="11.00" fill="#d5d5d5"/>
<rect x="74.25" y="827.50" width="0.7" height="11.00" fill="#d5d5d5"/>
<rect x="86.14" y="827.50" width="0.7" height="11.00" fill="#d5d5d5"/>
<rect x="98.03" y="827.50" width="0.7" height="11.00" fill="#d5d5d5"/>
<rect x="109.91" y="827.50" width="0.7" height="11.00" fill="#d5d5d5"/>
<rect x="121.80" y="827.50" width="0.7" height="11.00" fill="#d5d5d5"/>
<rect x="133.69" y="827.50" width="0.7" height="11.00" fill="#d5d5d5"/>
<rect x="145.58" y="827.50" width="0.7" height="11.00" fill="#d5d5d5"/>
<rect x="157.47" y="827.50" width="0.7" height="11.00" fill="#d5d5d5"/>
<rect x="169.36" y="827.50" width="0.7" height="11.00" fill="#d5d5d5"/>
<rect x="181.25" y="827.50" width="0.7" height="11.00" fill="#d5d5d5"/>
<rect x="193.14" y="827.50" width="0.7" height="11.00" fill="#d5d5d5"/>
<rect x="205.03" y="827.50" width="0.7" height="11.00" fill="#d5d5d5"/>
<rect x="216.92" y="827.50" width="0.7" height="11.00" fill="#d5d5d5"/>
<rect x="228.81" y="827.50" width="0.7" height="11.00" fill="#d5d5d5"/>
<rect x="240.70" y="827.50" width="0.7" height="11.00" fill="#d5d5d5"/>
<rect x="252.59" y="827.50" width="0.7" height="11.00" fill="#d5d5d5"/>
<rect x="264.47" y="827.50" width="0.7" height="11.00" fill="#d5d5d5"/>
<rect x="276.36" y="827.50" width="0.7" height="11.00" fill="#d5d5d5"/>
<rect x="288.25" y="827.50" width="0.7" height="11.00" fill="#d5d5d5"/>
<rect x="300.14" y="827.50" width="0.7" height="11.00" fill="#d5d5d5"/>
<rect x="312.03" y="827.50" width="0.7" height="11.00" fill="#d5d5d5"/>
<rect x="323.92" y="827.50" width="0.7" height="11.00" fill="#d5d5d5"/>
<rect x="335.81" y="827.50" width="0.7" height="11.00" fill="#d5d5d5"/>
<rect x="347.70" y="827.50" width="0.7" height="11.00" fill="#d5d5d5"/>
<rect x="359.59" y="827.50" width="0.7" height="11.00" fill="#d5d5d5"/>
<rect x="371.48" y="827.50" width="0.7" height="11.00" fill="#d5d5d5"/>
<rect x="383.37" y="827.50" width="0.7" height="11.00" fill="#d5d5d5"/>
<rect x="395.26" y="827.50" width="0.7" height="11.00" fill="#d5d5d5"/>
<rect x="407.15" y="827.50" width="0.7" height="11.00" fill="#d5d5d5"/>
<rect x="419.04" y="827.50" width="0.7" height="11.00" fill="#d5d5d5"/>
<rect x="430.92" y="827.50" width="0.7" height="11.00" fill="#d5d5d5"/>
<rect x="442.81" y="827.50" width="0.7" height="11.00" fill="#d5d5d5"/>
<rect x="454.70" y="827.50" width="0.7" height="11.00" fill="#d5d5d5"/>
<rect x="466.59" y="827.50" width="0.7" height="11.00" fill="#d5d5d5"/>
<rect x="478.48" y="827.50" width="0.7" height="11.00" fill="#d5d5d5"/>
<rect x="490.37" y="827.50" width="0.7" height="11.00" fill="#d5d5d5"/>
<rect x="502.26" y="827.50" width="0.7" height="11.00" fill="#d5d5d5"/>
<rect x="27.04" y="835.45" width="23.78" height="3.35" fill="#1b9acd"/>
<rect x="15.15" y="827.50" width="499.35" height="11.00" fill="none" stroke="#444" stroke-width="1.15"/>
<text x="15.95" y="854.60" font-size="11.28" fill="#1a1a1a" stroke="#1a1a1a" stroke-width="0.22">White patients without TMA (n = 39)</text>
<rect x="15.15" y="858.60" width="499.35" height="109.70" fill="#fdfdfd"/>
<rect x="15.15" y="860.68" width="499.35" height="0.9" fill="#e1e1e1"/>
<rect x="15.15" y="863.50" width="499.35" height="0.9" fill="#e1e1e1"/>
<rect x="15.15" y="866.33" width="499.35" height="0.9" fill="#e1e1e1"/>
<rect x="15.15" y="869.15" width="499.35" height="0.9" fill="#e1e1e1"/>
<rect x="15.15" y="871.98" width="499.35" height="0.9" fill="#e1e1e1"/>
<rect x="15.15" y="874.81" width="499.35" height="0.9" fill="#e1e1e1"/>
<rect x="15.15" y="877.63" width="499.35" height="0.9" fill="#e1e1e1"/>
<rect x="15.15" y="880.46" width="499.35" height="0.9" fill="#e1e1e1"/>
<rect x="15.15" y="883.28" width="499.35" height="0.9" fill="#e1e1e1"/>
<rect x="15.15" y="886.11" width="499.35" height="0.9" fill="#e1e1e1"/>
<rect x="15.15" y="888.94" width="499.35" height="0.9" fill="#e1e1e1"/>
<rect x="15.15" y="891.76" width="499.35" height="0.9" fill="#e1e1e1"/>
<rect x="15.15" y="894.59" width="499.35" height="0.9" fill="#e1e1e1"/>
<rect x="15.15" y="897.41" width="499.35" height="0.9" fill="#e1e1e1"/>
<rect x="15.15" y="900.24" width="499.35" height="0.9" fill="#e1e1e1"/>
<rect x="15.15" y="903.07" width="499.35" height="0.9" fill="#e1e1e1"/>
<rect x="15.15" y="905.89" width="499.35" height="0.9" fill="#e1e1e1"/>
<rect x="15.15" y="908.72" width="499.35" height="0.9" fill="#e1e1e1"/>
<rect x="15.15" y="911.54" width="499.35" height="0.9" fill="#e1e1e1"/>
<rect x="15.15" y="914.37" width="499.35" height="0.9" fill="#e1e1e1"/>
<rect x="15.15" y="917.20" width="499.35" height="0.9" fill="#e1e1e1"/>
<rect x="15.15" y="920.02" width="499.35" height="0.9" fill="#e1e1e1"/>
<rect x="15.15" y="922.85" width="499.35" height="0.9" fill="#e1e1e1"/>
<rect x="15.15" y="925.67" width="499.35" height="0.9" fill="#e1e1e1"/>
<rect x="15.15" y="928.50" width="499.35" height="0.9" fill="#e1e1e1"/>
<rect x="15.15" y="931.33" width="499.35" height="0.9" fill="#e1e1e1"/>
<rect x="15.15" y="934.15" width="499.35" height="0.9" fill="#e1e1e1"/>
<rect x="15.15" y="936.98" width="499.35" height="0.9" fill="#e1e1e1"/>
<rect x="15.15" y="939.80" width="499.35" height="0.9" fill="#e1e1e1"/>
<rect x="15.15" y="942.63" width="499.35" height="0.9" fill="#e1e1e1"/>
<rect x="15.15" y="945.46" width="499.35" height="0.9" fill="#e1e1e1"/>
<rect x="15.15" y="948.28" width="499.35" height="0.9" fill="#e1e1e1"/>
<rect x="15.15" y="951.11" width="499.35" height="0.9" fill="#e1e1e1"/>
<rect x="15.15" y="953.93" width="499.35" height="0.9" fill="#e1e1e1"/>
<rect x="15.15" y="956.76" width="499.35" height="0.9" fill="#e1e1e1"/>
<rect x="15.15" y="959.59" width="499.35" height="0.9" fill="#e1e1e1"/>
<rect x="15.15" y="962.41" width="499.35" height="0.9" fill="#e1e1e1"/>
<rect x="15.15" y="965.24" width="499.35" height="0.9" fill="#e1e1e1"/>
<rect x="26.69" y="858.60" width="0.7" height="109.70" fill="#d5d5d5"/>
<rect x="38.58" y="858.60" width="0.7" height="109.70" fill="#d5d5d5"/>
<rect x="50.47" y="858.60" width="0.7" height="109.70" fill="#d5d5d5"/>
<rect x="62.36" y="858.60" width="0.7" height="109.70" fill="#d5d5d5"/>
<rect x="74.25" y="858.60" width="0.7" height="109.70" fill="#d5d5d5"/>
<rect x="86.14" y="858.60" width="0.7" height="109.70" fill="#d5d5d5"/>
<rect x="98.03" y="858.60" width="0.7" height="109.70" fill="#d5d5d5"/>
<rect x="109.91" y="858.60" width="0.7" height="109.70" fill="#d5d5d5"/>
<rect x="121.80" y="858.60" width="0.7" height="109.70" fill="#d5d5d5"/>
<rect x="133.69" y="858.60" width="0.7" height="109.70" fill="#d5d5d5"/>
<rect x="145.58" y="858.60" width="0.7" height="109.70" fill="#d5d5d5"/>
<rect x="157.47" y="858.60" width="0.7" height="109.70" fill="#d5d5d5"/>
<rect x="169.36" y="858.60" width="0.7" height="109.70" fill="#d5d5d5"/>
<rect x="181.25" y="858.60" width="0.7" height="109.70" fill="#d5d5d5"/>
<rect x="193.14" y="858.60" width="0.7" height="109.70" fill="#d5d5d5"/>
<rect x="205.03" y="858.60" width="0.7" height="109.70" fill="#d5d5d5"/>
<rect x="216.92" y="858.60" width="0.7" height="109.70" fill="#d5d5d5"/>
<rect x="228.81" y="858.60" width="0.7" height="109.70" fill="#d5d5d5"/>
<rect x="240.70" y="858.60" width="0.7" height="109.70" fill="#d5d5d5"/>
<rect x="252.59" y="858.60" width="0.7" height="109.70" fill="#d5d5d5"/>
<rect x="264.47" y="858.60" width="0.7" height="109.70" fill="#d5d5d5"/>
<rect x="276.36" y="858.60" width="0.7" height="109.70" fill="#d5d5d5"/>
<rect x="288.25" y="858.60" width="0.7" height="109.70" fill="#d5d5d5"/>
<rect x="300.14" y="858.60" width="0.7" height="109.70" fill="#d5d5d5"/>
<rect x="312.03" y="858.60" width="0.7" height="109.70" fill="#d5d5d5"/>
<rect x="323.92" y="858.60" width="0.7" height="109.70" fill="#d5d5d5"/>
<rect x="335.81" y="858.60" width="0.7" height="109.70" fill="#d5d5d5"/>
<rect x="347.70" y="858.60" width="0.7" height="109.70" fill="#d5d5d5"/>
<rect x="359.59" y="858.60" width="0.7" height="109.70" fill="#d5d5d5"/>
<rect x="371.48" y="858.60" width="0.7" height="109.70" fill="#d5d5d5"/>
<rect x="383.37" y="858.60" width="0.7" height="109.70" fill="#d5d5d5"/>
<rect x="395.26" y="858.60" width="0.7" height="109.70" fill="#d5d5d5"/>
<rect x="407.15" y="858.60" width="0.7" height="109.70" fill="#d5d5d5"/>
<rect x="419.04" y="858.60" width="0.7" height="109.70" fill="#d5d5d5"/>
<rect x="430.92" y="858.60" width="0.7" height="109.70" fill="#d5d5d5"/>
<rect x="442.81" y="858.60" width="0.7" height="109.70" fill="#d5d5d5"/>
<rect x="454.70" y="858.60" width="0.7" height="109.70" fill="#d5d5d5"/>
<rect x="466.59" y="858.60" width="0.7" height="109.70" fill="#d5d5d5"/>
<rect x="478.48" y="858.60" width="0.7" height="109.70" fill="#d5d5d5"/>
<rect x="490.37" y="858.60" width="0.7" height="109.70" fill="#d5d5d5"/>
<rect x="502.26" y="858.60" width="0.7" height="109.70" fill="#d5d5d5"/>
<rect x="205.38" y="866.48" width="11.89" height="3.43" fill="#1b9acd"/>
<rect x="371.83" y="877.78" width="11.89" height="3.43" fill="#1b9acd"/>
<rect x="490.72" y="891.91" width="11.89" height="3.43" fill="#1b9acd"/>
<rect x="15.15" y="858.60" width="499.35" height="109.70" fill="none" stroke="#444" stroke-width="1.15"/>
</svg>
</body></html>
